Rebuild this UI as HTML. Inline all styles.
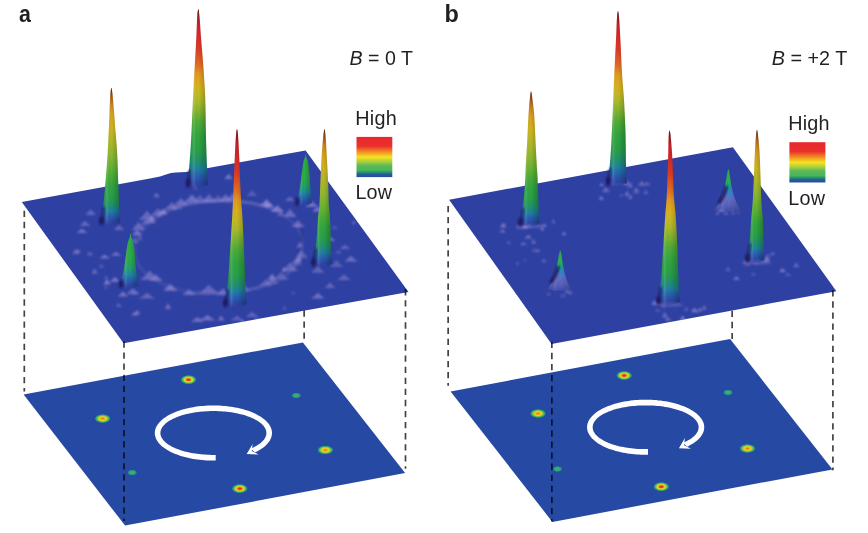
<!DOCTYPE html>
<html><head><meta charset="utf-8"><title>Figure</title>
<style>html,body{margin:0;padding:0;background:#fff;}svg{display:block}</style>
</head><body>
<svg width="868" height="533" viewBox="0 0 868 533">
<defs>
<filter id="soft" x="-5%" y="-5%" width="110%" height="110%"><feGaussianBlur stdDeviation="0.45"/></filter>
<filter id="b05" x="-5%" y="-5%" width="110%" height="110%"><feGaussianBlur stdDeviation="1.05"/></filter>
<filter id="b1" x="-50%" y="-50%" width="200%" height="200%"><feGaussianBlur stdDeviation="1.2"/></filter>
<linearGradient id="shade" x1="0" y1="0" x2="1" y2="0">
<stop offset="0" stop-color="#000" stop-opacity="0.22"/>
<stop offset="0.18" stop-color="#000" stop-opacity="0.05"/>
<stop offset="0.32" stop-color="#fff" stop-opacity="0.12"/>
<stop offset="0.55" stop-color="#000" stop-opacity="0"/>
<stop offset="1" stop-color="#000" stop-opacity="0.28"/>
</linearGradient>
<linearGradient id="cbar" x1="0" y1="0" x2="0" y2="1">
<stop offset="0" stop-color="#e8282d"/>
<stop offset="0.23" stop-color="#ea302b"/>
<stop offset="0.37" stop-color="#f28c24"/>
<stop offset="0.5" stop-color="#f7e21f"/>
<stop offset="0.62" stop-color="#a9cf40"/>
<stop offset="0.71" stop-color="#5cbb58"/>
<stop offset="0.83" stop-color="#4ab45c"/>
<stop offset="0.89" stop-color="#1f8f68"/>
<stop offset="0.935" stop-color="#2358a0"/>
<stop offset="1" stop-color="#2a4ca2"/>
</linearGradient>
<radialGradient id="dotbig">
<stop offset="0" stop-color="#d63a1f"/>
<stop offset="0.2" stop-color="#dc441f"/>
<stop offset="0.36" stop-color="#f0b020"/>
<stop offset="0.5" stop-color="#e2dc2a"/>
<stop offset="0.64" stop-color="#7cc446"/>
<stop offset="0.78" stop-color="#35ad62"/>
<stop offset="0.9" stop-color="#2a8a90" stop-opacity="0.8"/>
<stop offset="1" stop-color="#2848a4" stop-opacity="0"/>
</radialGradient>
<radialGradient id="dotmid">
<stop offset="0" stop-color="#e8702a"/>
<stop offset="0.2" stop-color="#eea020"/>
<stop offset="0.42" stop-color="#e6d826"/>
<stop offset="0.6" stop-color="#8cc83c"/>
<stop offset="0.75" stop-color="#3fb257"/>
<stop offset="0.88" stop-color="#2a8a90"/>
<stop offset="1" stop-color="#2848a4" stop-opacity="0"/>
</radialGradient>
<radialGradient id="dotsm">
<stop offset="0" stop-color="#3cb868"/>
<stop offset="0.4" stop-color="#34ac66"/>
<stop offset="0.75" stop-color="#2a8a90"/>
<stop offset="1" stop-color="#2848a4" stop-opacity="0"/>
</radialGradient>
<clipPath id="clipA"><polygon points="21.8,202.1 150.0,178.6 160.0,176.6 166.0,174.6 171.0,173.0 176.0,172.6 186.0,172.0 305.6,150.4 408.5,292.0 123.6,343.2"/></clipPath>
<clipPath id="clipB"><polygon points="449.1,199.7 732.9,147.2 836.4,291.2 551.6,343.9"/></clipPath>

<linearGradient id="ga2" gradientUnits="userSpaceOnUse" x1="0" y1="10.3" x2="0" y2="188.0"><stop offset="0.000" stop-color="#98181e"/><stop offset="0.050" stop-color="#c02026"/><stop offset="0.140" stop-color="#d4282a"/><stop offset="0.220" stop-color="#dc3c26"/><stop offset="0.310" stop-color="#e27020"/><stop offset="0.360" stop-color="#e29a20"/><stop offset="0.420" stop-color="#dab020"/><stop offset="0.470" stop-color="#c4ba22"/><stop offset="0.520" stop-color="#a8ba2a"/><stop offset="0.570" stop-color="#80b430"/><stop offset="0.630" stop-color="#50ac38"/><stop offset="0.710" stop-color="#30a540"/><stop offset="0.790" stop-color="#28a048"/><stop offset="0.855" stop-color="#209070"/><stop offset="0.893" stop-color="#1f80a0"/><stop offset="0.930" stop-color="#2860b0"/><stop offset="0.970" stop-color="#2a48a8"/><stop offset="1.000" stop-color="#2e40a2"/></linearGradient><linearGradient id="ta2" gradientUnits="userSpaceOnUse" x1="0" y1="9.3" x2="0" y2="25.3"><stop offset="0" stop-color="#3a1408" stop-opacity="0.75"/><stop offset="0.4" stop-color="#3a1408" stop-opacity="0.28"/><stop offset="1" stop-color="#3a1408" stop-opacity="0"/></linearGradient><linearGradient id="fa2" gradientUnits="userSpaceOnUse" x1="0" y1="183.5" x2="0" y2="189.5"><stop offset="0" stop-color="#fff"/><stop offset="1" stop-color="#000"/></linearGradient><mask id="ma2" maskUnits="userSpaceOnUse" x="168.3" y="5.3" width="60.0" height="194.7"><rect x="168.3" y="5.3" width="60.0" height="194.7" fill="url(#fa2)"/></mask>
<linearGradient id="ga5" gradientUnits="userSpaceOnUse" x1="0" y1="155.0" x2="0" y2="206.0"><stop offset="0.000" stop-color="#2fae44"/><stop offset="0.450" stop-color="#2bab48"/><stop offset="0.620" stop-color="#22a068"/><stop offset="0.740" stop-color="#1f88a0"/><stop offset="0.850" stop-color="#2860b0"/><stop offset="0.940" stop-color="#2a48a8"/><stop offset="1.000" stop-color="#2e40a2"/></linearGradient><linearGradient id="ta5" gradientUnits="userSpaceOnUse" x1="0" y1="154.0" x2="0" y2="170.0"><stop offset="0" stop-color="#3a1408" stop-opacity="0.75"/><stop offset="0.4" stop-color="#3a1408" stop-opacity="0.28"/><stop offset="1" stop-color="#3a1408" stop-opacity="0"/></linearGradient><linearGradient id="fa5" gradientUnits="userSpaceOnUse" x1="0" y1="201.5" x2="0" y2="207.5"><stop offset="0" stop-color="#fff"/><stop offset="1" stop-color="#000"/></linearGradient><mask id="ma5" maskUnits="userSpaceOnUse" x="275.7" y="150.0" width="60.0" height="68.0"><rect x="275.7" y="150.0" width="60.0" height="68.0" fill="url(#fa5)"/></mask>
<linearGradient id="ga1" gradientUnits="userSpaceOnUse" x1="0" y1="89.0" x2="0" y2="225.5"><stop offset="0.000" stop-color="#8a4a18"/><stop offset="0.070" stop-color="#c27020"/><stop offset="0.180" stop-color="#d6a020"/><stop offset="0.280" stop-color="#ccb422"/><stop offset="0.380" stop-color="#b0b828"/><stop offset="0.480" stop-color="#8cb830"/><stop offset="0.560" stop-color="#6cb432"/><stop offset="0.630" stop-color="#4cae36"/><stop offset="0.710" stop-color="#30a540"/><stop offset="0.790" stop-color="#28a048"/><stop offset="0.855" stop-color="#209070"/><stop offset="0.893" stop-color="#1f80a0"/><stop offset="0.930" stop-color="#2860b0"/><stop offset="0.970" stop-color="#2a48a8"/><stop offset="1.000" stop-color="#2e40a2"/></linearGradient><linearGradient id="ta1" gradientUnits="userSpaceOnUse" x1="0" y1="88.0" x2="0" y2="104.0"><stop offset="0" stop-color="#3a1408" stop-opacity="0.75"/><stop offset="0.4" stop-color="#3a1408" stop-opacity="0.28"/><stop offset="1" stop-color="#3a1408" stop-opacity="0"/></linearGradient><linearGradient id="fa1" gradientUnits="userSpaceOnUse" x1="0" y1="221.0" x2="0" y2="227.0"><stop offset="0" stop-color="#fff"/><stop offset="1" stop-color="#000"/></linearGradient><mask id="ma1" maskUnits="userSpaceOnUse" x="81.4" y="84.0" width="60.0" height="153.5"><rect x="81.4" y="84.0" width="60.0" height="153.5" fill="url(#fa1)"/></mask>
<linearGradient id="ga4" gradientUnits="userSpaceOnUse" x1="0" y1="130.2" x2="0" y2="267.0"><stop offset="0.000" stop-color="#8a4a18"/><stop offset="0.070" stop-color="#c27020"/><stop offset="0.180" stop-color="#d6a020"/><stop offset="0.280" stop-color="#ccb422"/><stop offset="0.380" stop-color="#b0b828"/><stop offset="0.480" stop-color="#8cb830"/><stop offset="0.560" stop-color="#6cb432"/><stop offset="0.630" stop-color="#4cae36"/><stop offset="0.710" stop-color="#30a540"/><stop offset="0.790" stop-color="#28a048"/><stop offset="0.855" stop-color="#209070"/><stop offset="0.893" stop-color="#1f80a0"/><stop offset="0.930" stop-color="#2860b0"/><stop offset="0.970" stop-color="#2a48a8"/><stop offset="1.000" stop-color="#2e40a2"/></linearGradient><linearGradient id="ta4" gradientUnits="userSpaceOnUse" x1="0" y1="129.2" x2="0" y2="145.2"><stop offset="0" stop-color="#3a1408" stop-opacity="0.75"/><stop offset="0.4" stop-color="#3a1408" stop-opacity="0.28"/><stop offset="1" stop-color="#3a1408" stop-opacity="0"/></linearGradient><linearGradient id="fa4" gradientUnits="userSpaceOnUse" x1="0" y1="262.5" x2="0" y2="268.5"><stop offset="0" stop-color="#fff"/><stop offset="1" stop-color="#000"/></linearGradient><mask id="ma4" maskUnits="userSpaceOnUse" x="294.4" y="125.2" width="60.0" height="153.8"><rect x="294.4" y="125.2" width="60.0" height="153.8" fill="url(#fa4)"/></mask>
<linearGradient id="ga6" gradientUnits="userSpaceOnUse" x1="0" y1="234.3" x2="0" y2="288.5"><stop offset="0.000" stop-color="#2fae44"/><stop offset="0.450" stop-color="#2bab48"/><stop offset="0.620" stop-color="#22a068"/><stop offset="0.740" stop-color="#1f88a0"/><stop offset="0.850" stop-color="#2860b0"/><stop offset="0.940" stop-color="#2a48a8"/><stop offset="1.000" stop-color="#2e40a2"/></linearGradient><linearGradient id="ta6" gradientUnits="userSpaceOnUse" x1="0" y1="233.3" x2="0" y2="249.3"><stop offset="0" stop-color="#3a1408" stop-opacity="0.75"/><stop offset="0.4" stop-color="#3a1408" stop-opacity="0.28"/><stop offset="1" stop-color="#3a1408" stop-opacity="0"/></linearGradient><linearGradient id="fa6" gradientUnits="userSpaceOnUse" x1="0" y1="284.0" x2="0" y2="290.0"><stop offset="0" stop-color="#fff"/><stop offset="1" stop-color="#000"/></linearGradient><mask id="ma6" maskUnits="userSpaceOnUse" x="100.5" y="229.3" width="60.0" height="71.2"><rect x="100.5" y="229.3" width="60.0" height="71.2" fill="url(#fa6)"/></mask>
<linearGradient id="ga3" gradientUnits="userSpaceOnUse" x1="0" y1="130.3" x2="0" y2="307.5"><stop offset="0.000" stop-color="#98181e"/><stop offset="0.056" stop-color="#c02026"/><stop offset="0.157" stop-color="#d4282a"/><stop offset="0.245" stop-color="#dc3c26"/><stop offset="0.343" stop-color="#e27020"/><stop offset="0.396" stop-color="#e29a20"/><stop offset="0.459" stop-color="#dab020"/><stop offset="0.510" stop-color="#c4ba22"/><stop offset="0.560" stop-color="#a8ba2a"/><stop offset="0.609" stop-color="#80b430"/><stop offset="0.667" stop-color="#50ac38"/><stop offset="0.742" stop-color="#30a540"/><stop offset="0.815" stop-color="#28a048"/><stop offset="0.873" stop-color="#209070"/><stop offset="0.906" stop-color="#1f80a0"/><stop offset="0.939" stop-color="#2860b0"/><stop offset="0.974" stop-color="#2a48a8"/><stop offset="1.000" stop-color="#2e40a2"/></linearGradient><linearGradient id="ta3" gradientUnits="userSpaceOnUse" x1="0" y1="129.3" x2="0" y2="145.3"><stop offset="0" stop-color="#3a1408" stop-opacity="0.75"/><stop offset="0.4" stop-color="#3a1408" stop-opacity="0.28"/><stop offset="1" stop-color="#3a1408" stop-opacity="0"/></linearGradient><linearGradient id="fa3" gradientUnits="userSpaceOnUse" x1="0" y1="303.0" x2="0" y2="309.0"><stop offset="0" stop-color="#fff"/><stop offset="1" stop-color="#000"/></linearGradient><mask id="ma3" maskUnits="userSpaceOnUse" x="207.0" y="125.3" width="60.0" height="194.2"><rect x="207.0" y="125.3" width="60.0" height="194.2" fill="url(#fa3)"/></mask>
<linearGradient id="gb2" gradientUnits="userSpaceOnUse" x1="0" y1="12.2" x2="0" y2="186.3"><stop offset="0.000" stop-color="#98181e"/><stop offset="0.050" stop-color="#c02026"/><stop offset="0.140" stop-color="#d4282a"/><stop offset="0.220" stop-color="#dc3c26"/><stop offset="0.310" stop-color="#e27020"/><stop offset="0.360" stop-color="#e29a20"/><stop offset="0.420" stop-color="#dab020"/><stop offset="0.470" stop-color="#c4ba22"/><stop offset="0.520" stop-color="#a8ba2a"/><stop offset="0.570" stop-color="#80b430"/><stop offset="0.630" stop-color="#50ac38"/><stop offset="0.710" stop-color="#30a540"/><stop offset="0.790" stop-color="#28a048"/><stop offset="0.855" stop-color="#209070"/><stop offset="0.893" stop-color="#1f80a0"/><stop offset="0.930" stop-color="#2860b0"/><stop offset="0.970" stop-color="#2a48a8"/><stop offset="1.000" stop-color="#2e40a2"/></linearGradient><linearGradient id="tb2" gradientUnits="userSpaceOnUse" x1="0" y1="11.2" x2="0" y2="27.2"><stop offset="0" stop-color="#3a1408" stop-opacity="0.75"/><stop offset="0.4" stop-color="#3a1408" stop-opacity="0.28"/><stop offset="1" stop-color="#3a1408" stop-opacity="0"/></linearGradient><linearGradient id="fb2" gradientUnits="userSpaceOnUse" x1="0" y1="181.8" x2="0" y2="187.8"><stop offset="0" stop-color="#fff"/><stop offset="1" stop-color="#000"/></linearGradient><mask id="mb2" maskUnits="userSpaceOnUse" x="588.0" y="7.2" width="60.0" height="191.1"><rect x="588.0" y="7.2" width="60.0" height="191.1" fill="url(#fb2)"/></mask>
<linearGradient id="gb5" gradientUnits="userSpaceOnUse" x1="0" y1="210.5" x2="0" y2="170.1"><stop offset="0.000" stop-color="#8482d2" stop-opacity="0.25"/><stop offset="0.120" stop-color="#8482d2" stop-opacity="0.48"/><stop offset="0.300" stop-color="#6f7ed2" stop-opacity="0.75"/><stop offset="0.420" stop-color="#3f80cc" stop-opacity="0.97"/><stop offset="0.520" stop-color="#2490b8" stop-opacity="1.00"/><stop offset="0.620" stop-color="#20a07c" stop-opacity="1.00"/><stop offset="0.740" stop-color="#2bb04e" stop-opacity="1.00"/><stop offset="1.000" stop-color="#2fa844" stop-opacity="1.00"/></linearGradient>
<linearGradient id="gb1" gradientUnits="userSpaceOnUse" x1="0" y1="92.5" x2="0" y2="227.0"><stop offset="0.000" stop-color="#8a4a18"/><stop offset="0.070" stop-color="#c27020"/><stop offset="0.180" stop-color="#d6a020"/><stop offset="0.280" stop-color="#ccb422"/><stop offset="0.380" stop-color="#b0b828"/><stop offset="0.480" stop-color="#8cb830"/><stop offset="0.560" stop-color="#6cb432"/><stop offset="0.630" stop-color="#4cae36"/><stop offset="0.710" stop-color="#30a540"/><stop offset="0.790" stop-color="#28a048"/><stop offset="0.855" stop-color="#209070"/><stop offset="0.893" stop-color="#1f80a0"/><stop offset="0.930" stop-color="#2860b0"/><stop offset="0.970" stop-color="#2a48a8"/><stop offset="1.000" stop-color="#2e40a2"/></linearGradient><linearGradient id="tb1" gradientUnits="userSpaceOnUse" x1="0" y1="91.5" x2="0" y2="107.5"><stop offset="0" stop-color="#3a1408" stop-opacity="0.75"/><stop offset="0.4" stop-color="#3a1408" stop-opacity="0.28"/><stop offset="1" stop-color="#3a1408" stop-opacity="0"/></linearGradient><linearGradient id="fb1" gradientUnits="userSpaceOnUse" x1="0" y1="222.5" x2="0" y2="228.5"><stop offset="0" stop-color="#fff"/><stop offset="1" stop-color="#000"/></linearGradient><mask id="mb1" maskUnits="userSpaceOnUse" x="501.0" y="87.5" width="60.0" height="151.5"><rect x="501.0" y="87.5" width="60.0" height="151.5" fill="url(#fb1)"/></mask>
<linearGradient id="gb4" gradientUnits="userSpaceOnUse" x1="0" y1="131.0" x2="0" y2="263.2"><stop offset="0.000" stop-color="#8a4a18"/><stop offset="0.070" stop-color="#c27020"/><stop offset="0.180" stop-color="#d6a020"/><stop offset="0.280" stop-color="#ccb422"/><stop offset="0.380" stop-color="#b0b828"/><stop offset="0.480" stop-color="#8cb830"/><stop offset="0.560" stop-color="#6cb432"/><stop offset="0.630" stop-color="#4cae36"/><stop offset="0.710" stop-color="#30a540"/><stop offset="0.790" stop-color="#28a048"/><stop offset="0.855" stop-color="#209070"/><stop offset="0.893" stop-color="#1f80a0"/><stop offset="0.930" stop-color="#2860b0"/><stop offset="0.970" stop-color="#2a48a8"/><stop offset="1.000" stop-color="#2e40a2"/></linearGradient><linearGradient id="tb4" gradientUnits="userSpaceOnUse" x1="0" y1="130.0" x2="0" y2="146.0"><stop offset="0" stop-color="#3a1408" stop-opacity="0.75"/><stop offset="0.4" stop-color="#3a1408" stop-opacity="0.28"/><stop offset="1" stop-color="#3a1408" stop-opacity="0"/></linearGradient><linearGradient id="fb4" gradientUnits="userSpaceOnUse" x1="0" y1="258.8" x2="0" y2="264.8"><stop offset="0" stop-color="#fff"/><stop offset="1" stop-color="#000"/></linearGradient><mask id="mb4" maskUnits="userSpaceOnUse" x="727.0" y="126.0" width="60.0" height="149.2"><rect x="727.0" y="126.0" width="60.0" height="149.2" fill="url(#fb4)"/></mask>
<linearGradient id="gb6" gradientUnits="userSpaceOnUse" x1="0" y1="289.5" x2="0" y2="251.3"><stop offset="0.000" stop-color="#8482d2" stop-opacity="0.25"/><stop offset="0.120" stop-color="#8482d2" stop-opacity="0.48"/><stop offset="0.300" stop-color="#6f7ed2" stop-opacity="0.75"/><stop offset="0.420" stop-color="#3f80cc" stop-opacity="0.97"/><stop offset="0.520" stop-color="#2490b8" stop-opacity="1.00"/><stop offset="0.620" stop-color="#20a07c" stop-opacity="1.00"/><stop offset="0.740" stop-color="#2bb04e" stop-opacity="1.00"/><stop offset="1.000" stop-color="#2fa844" stop-opacity="1.00"/></linearGradient>
<linearGradient id="gb3" gradientUnits="userSpaceOnUse" x1="0" y1="131.6" x2="0" y2="305.0"><stop offset="0.000" stop-color="#98181e"/><stop offset="0.056" stop-color="#c02026"/><stop offset="0.157" stop-color="#d4282a"/><stop offset="0.245" stop-color="#dc3c26"/><stop offset="0.343" stop-color="#e27020"/><stop offset="0.396" stop-color="#e29a20"/><stop offset="0.459" stop-color="#dab020"/><stop offset="0.510" stop-color="#c4ba22"/><stop offset="0.560" stop-color="#a8ba2a"/><stop offset="0.609" stop-color="#80b430"/><stop offset="0.667" stop-color="#50ac38"/><stop offset="0.742" stop-color="#30a540"/><stop offset="0.815" stop-color="#28a048"/><stop offset="0.873" stop-color="#209070"/><stop offset="0.906" stop-color="#1f80a0"/><stop offset="0.939" stop-color="#2860b0"/><stop offset="0.974" stop-color="#2a48a8"/><stop offset="1.000" stop-color="#2e40a2"/></linearGradient><linearGradient id="tb3" gradientUnits="userSpaceOnUse" x1="0" y1="130.6" x2="0" y2="146.6"><stop offset="0" stop-color="#3a1408" stop-opacity="0.75"/><stop offset="0.4" stop-color="#3a1408" stop-opacity="0.28"/><stop offset="1" stop-color="#3a1408" stop-opacity="0"/></linearGradient><linearGradient id="fb3" gradientUnits="userSpaceOnUse" x1="0" y1="300.5" x2="0" y2="306.5"><stop offset="0" stop-color="#fff"/><stop offset="1" stop-color="#000"/></linearGradient><mask id="mb3" maskUnits="userSpaceOnUse" x="639.6" y="126.6" width="60.0" height="190.4"><rect x="639.6" y="126.6" width="60.0" height="190.4" fill="url(#fb3)"/></mask></defs>
<rect width="868" height="533" fill="#fff"/>
<g filter="url(#soft)">
<polygon points="23.6,394.6 302.9,342.4 405.1,473.1 125.1,525.6" fill="#2848a4"/>
<polygon points="450.6,391.4 730.1,339.1 832.5,469.4 552.4,521.9" fill="#2848a4"/>
<ellipse cx="188.5" cy="379.7" rx="8.2" ry="4.8" fill="url(#dotbig)"/>
<ellipse cx="239.8" cy="488.6" rx="8.2" ry="4.8" fill="url(#dotbig)"/>
<ellipse cx="102.7" cy="418.6" rx="8.2" ry="4.6" fill="url(#dotmid)"/>
<ellipse cx="325.4" cy="450.0" rx="8.2" ry="4.6" fill="url(#dotmid)"/>
<ellipse cx="132.2" cy="472.6" rx="5.2" ry="3.2" fill="url(#dotsm)"/>
<ellipse cx="296.3" cy="395.5" rx="5.2" ry="3.2" fill="url(#dotsm)"/>
<ellipse cx="624.2" cy="375.5" rx="8.2" ry="4.8" fill="url(#dotbig)"/>
<ellipse cx="661.3" cy="486.7" rx="8.2" ry="4.8" fill="url(#dotbig)"/>
<ellipse cx="538.0" cy="413.5" rx="8.2" ry="4.6" fill="url(#dotmid)"/>
<ellipse cx="747.5" cy="448.5" rx="8.2" ry="4.6" fill="url(#dotmid)"/>
<ellipse cx="557.5" cy="469.0" rx="5.2" ry="3.2" fill="url(#dotsm)"/>
<ellipse cx="728.0" cy="392.5" rx="5.2" ry="3.2" fill="url(#dotsm)"/>
<path d="M215.7 460.5 L213.6 460.5 L211.3 460.5 L209.0 460.5 L206.7 460.4 L204.4 460.2 L202.1 460.0 L199.8 459.8 L197.6 459.5 L195.4 459.2 L193.2 458.9 L191.0 458.5 L188.9 458.0 L186.8 457.6 L184.8 457.0 L182.8 456.5 L180.8 455.9 L178.9 455.3 L177.1 454.6 L175.3 453.9 L173.5 453.2 L171.9 452.4 L170.3 451.7 L168.7 450.8 L167.3 450.0 L165.9 449.1 L164.6 448.2 L163.3 447.3 L162.1 446.4 L161.1 445.4 L160.1 444.4 L159.1 443.4 L158.3 442.4 L157.6 441.4 L156.9 440.3 L156.3 439.3 L155.8 438.2 L155.5 437.1 L155.2 436.0 L154.9 434.9 L154.8 433.9 L154.8 432.8 L154.9 431.7 L155.0 430.6 L155.3 429.5 L155.6 428.4 L156.0 427.4 L156.6 426.3 L157.2 425.2 L157.9 424.2 L158.7 423.2 L159.5 422.2 L160.5 421.2 L161.5 420.2 L162.6 419.2 L163.8 418.3 L165.1 417.4 L166.5 416.5 L167.9 415.6 L169.4 414.8 L170.9 414.0 L172.6 413.2 L174.3 412.5 L176.0 411.8 L177.8 411.1 L179.7 410.5 L181.6 409.8 L183.6 409.3 L185.6 408.7 L187.7 408.2 L189.8 407.8 L191.9 407.4 L194.1 407.0 L196.3 406.6 L198.6 406.3 L200.8 406.1 L203.1 405.9 L205.4 405.7 L207.7 405.6 L210.0 405.5 L212.3 405.5 L214.6 405.5 L216.9 405.5 L219.3 405.6 L221.6 405.7 L223.8 405.9 L226.1 406.1 L228.4 406.4 L230.6 406.7 L232.8 407.0 L235.0 407.4 L237.1 407.8 L239.2 408.3 L241.3 408.8 L243.3 409.3 L245.3 409.9 L247.2 410.5 L249.1 411.1 L250.9 411.8 L252.6 412.5 L254.3 413.3 L255.9 414.1 L257.5 414.9 L259.0 415.7 L260.4 416.6 L261.8 417.4 L263.0 418.4 L264.2 419.3 L265.3 420.2 L266.4 421.2 L267.3 422.2 L268.2 423.2 L269.0 424.3 L269.7 425.3 L270.3 426.4 L270.8 427.4 L271.2 428.5 L271.5 429.6 L271.8 430.7 L271.9 431.7 L272.0 432.8 L272.0 433.9 L271.8 435.0 L271.6 436.1 L271.3 437.2 L270.9 438.2 L270.4 439.3 L269.9 440.4 L269.2 441.4 L268.4 442.4 L267.6 443.5 L266.7 444.5 L265.7 445.4 L264.6 446.4 L263.4 447.4 L262.2 448.3 L260.9 449.2 L259.5 450.0 L258.0 450.9 L256.4 451.7 L254.8 452.5 L250.9 448.5 L252.3 447.9 L253.7 447.2 L255.1 446.5 L256.3 445.9 L257.5 445.1 L258.6 444.4 L259.7 443.7 L260.7 442.9 L261.6 442.1 L262.4 441.3 L263.2 440.5 L263.9 439.7 L264.5 438.9 L265.0 438.0 L265.4 437.2 L265.8 436.3 L266.1 435.5 L266.3 434.6 L266.4 433.7 L266.4 432.9 L266.3 432.0 L266.2 431.1 L266.0 430.3 L265.7 429.4 L265.3 428.6 L264.8 427.7 L264.3 426.9 L263.7 426.1 L263.0 425.2 L262.2 424.4 L261.3 423.6 L260.4 422.9 L259.4 422.1 L258.3 421.4 L257.1 420.6 L255.9 419.9 L254.6 419.2 L253.3 418.6 L251.9 417.9 L250.4 417.3 L248.9 416.7 L247.3 416.2 L245.7 415.6 L244.0 415.1 L242.2 414.6 L240.4 414.2 L238.6 413.7 L236.8 413.3 L234.9 413.0 L232.9 412.6 L231.0 412.3 L229.0 412.1 L226.9 411.8 L224.9 411.6 L222.8 411.5 L220.8 411.3 L218.7 411.2 L216.6 411.1 L214.5 411.1 L212.4 411.1 L210.3 411.1 L208.2 411.2 L206.1 411.3 L204.1 411.4 L202.0 411.6 L200.0 411.8 L198.0 412.1 L196.0 412.3 L194.0 412.6 L192.1 413.0 L190.2 413.3 L188.3 413.7 L186.5 414.1 L184.7 414.6 L182.9 415.1 L181.2 415.6 L179.6 416.1 L178.0 416.7 L176.5 417.3 L175.0 417.9 L173.6 418.5 L172.2 419.2 L170.9 419.9 L169.7 420.6 L168.6 421.3 L167.5 422.1 L166.5 422.8 L165.5 423.6 L164.7 424.4 L163.9 425.2 L163.2 426.0 L162.5 426.8 L162.0 427.7 L161.5 428.5 L161.1 429.4 L160.8 430.2 L160.6 431.1 L160.5 431.9 L160.4 432.8 L160.4 433.7 L160.5 434.5 L160.7 435.4 L161.0 436.3 L161.3 437.1 L161.8 438.0 L162.3 438.8 L162.9 439.6 L163.6 440.5 L164.3 441.3 L165.2 442.1 L166.1 442.9 L167.0 443.6 L168.1 444.4 L169.2 445.1 L170.4 445.8 L171.7 446.5 L173.0 447.2 L174.4 447.8 L175.8 448.5 L177.4 449.1 L178.9 449.6 L180.5 450.2 L182.2 450.7 L183.9 451.2 L185.7 451.7 L187.5 452.1 L189.4 452.5 L191.2 452.9 L193.2 453.2 L195.1 453.6 L197.1 453.8 L199.1 454.1 L201.1 454.3 L203.2 454.5 L205.3 454.6 L207.3 454.8 L209.4 454.8 L211.5 454.9 L213.6 454.9 L215.7 454.9 Z" fill="#fff"/><path d="M246.7 454.0 L252.6 443.9 L251.8 450.9 L258.6 454.5 Z" fill="#fff"/>
<path d="M648.0 454.8 L645.9 454.8 L643.6 454.8 L641.3 454.7 L638.9 454.6 L636.6 454.5 L634.4 454.3 L632.1 454.1 L629.8 453.8 L627.6 453.5 L625.4 453.1 L623.3 452.7 L621.1 452.3 L619.1 451.8 L617.0 451.3 L615.0 450.7 L613.1 450.1 L611.2 449.5 L609.3 448.9 L607.5 448.2 L605.8 447.4 L604.1 446.7 L602.5 445.9 L601.0 445.1 L599.5 444.2 L598.1 443.4 L596.8 442.5 L595.6 441.5 L594.4 440.6 L593.3 439.6 L592.3 438.7 L591.4 437.7 L590.6 436.6 L589.8 435.6 L589.2 434.6 L588.6 433.5 L588.1 432.4 L587.7 431.4 L587.4 430.3 L587.2 429.2 L587.1 428.1 L587.1 427.0 L587.1 425.9 L587.3 424.8 L587.5 423.8 L587.9 422.7 L588.3 421.6 L588.8 420.5 L589.4 419.5 L590.1 418.5 L590.9 417.4 L591.8 416.4 L592.7 415.4 L593.8 414.4 L594.9 413.5 L596.1 412.6 L597.4 411.6 L598.7 410.8 L600.1 409.9 L601.6 409.1 L603.2 408.3 L604.8 407.5 L606.5 406.7 L608.3 406.0 L610.1 405.4 L612.0 404.7 L613.9 404.1 L615.9 403.5 L617.9 403.0 L619.9 402.5 L622.0 402.0 L624.2 401.6 L626.4 401.2 L628.6 400.9 L630.8 400.6 L633.1 400.3 L635.3 400.1 L637.6 400.0 L639.9 399.8 L642.2 399.7 L644.6 399.7 L646.9 399.7 L649.2 399.8 L651.5 399.8 L653.8 400.0 L656.1 400.1 L658.4 400.4 L660.6 400.6 L662.9 400.9 L665.1 401.3 L667.2 401.6 L669.4 402.1 L671.5 402.5 L673.5 403.0 L675.5 403.6 L677.5 404.1 L679.4 404.7 L681.3 405.4 L683.1 406.1 L684.9 406.8 L686.6 407.5 L688.2 408.3 L689.8 409.1 L691.2 409.9 L692.7 410.8 L694.0 411.7 L695.3 412.6 L696.5 413.5 L697.6 414.5 L698.6 415.5 L699.6 416.5 L700.4 417.5 L701.2 418.5 L701.9 419.5 L702.5 420.6 L703.0 421.7 L703.5 422.7 L703.8 423.8 L704.0 424.9 L704.2 426.0 L704.2 427.1 L704.2 428.2 L704.1 429.3 L703.9 430.3 L703.6 431.4 L703.2 432.5 L702.7 433.6 L702.1 434.6 L701.4 435.7 L700.7 436.7 L699.9 437.7 L698.9 438.7 L697.9 439.7 L696.8 440.7 L695.7 441.6 L694.4 442.5 L693.1 443.4 L691.7 444.3 L690.2 445.1 L688.7 445.9 L687.1 446.7 L683.1 442.7 L684.6 442.1 L686.0 441.5 L687.3 440.8 L688.6 440.1 L689.8 439.4 L690.9 438.7 L691.9 437.9 L692.9 437.1 L693.8 436.4 L694.7 435.6 L695.4 434.8 L696.1 433.9 L696.7 433.1 L697.2 432.3 L697.7 431.4 L698.0 430.6 L698.3 429.7 L698.5 428.8 L698.6 428.0 L698.6 427.1 L698.6 426.2 L698.5 425.4 L698.2 424.5 L697.9 423.7 L697.5 422.8 L697.1 422.0 L696.5 421.1 L695.9 420.3 L695.2 419.5 L694.4 418.7 L693.6 417.9 L692.6 417.1 L691.6 416.4 L690.5 415.6 L689.4 414.9 L688.2 414.2 L686.9 413.5 L685.5 412.8 L684.1 412.2 L682.7 411.6 L681.1 411.0 L679.5 410.4 L677.9 409.9 L676.2 409.4 L674.5 408.9 L672.7 408.4 L670.9 408.0 L669.0 407.6 L667.1 407.2 L665.2 406.9 L663.2 406.6 L661.2 406.3 L659.2 406.1 L657.2 405.9 L655.1 405.7 L653.0 405.6 L650.9 405.5 L648.9 405.4 L646.8 405.4 L644.7 405.4 L642.6 405.4 L640.5 405.5 L638.4 405.6 L636.3 405.7 L634.3 405.9 L632.2 406.1 L630.2 406.3 L628.2 406.6 L626.2 406.9 L624.3 407.2 L622.4 407.6 L620.5 408.0 L618.7 408.4 L616.9 408.8 L615.2 409.3 L613.5 409.8 L611.8 410.4 L610.3 410.9 L608.7 411.5 L607.3 412.2 L605.8 412.8 L604.5 413.5 L603.2 414.1 L602.0 414.8 L600.8 415.6 L599.7 416.3 L598.7 417.1 L597.8 417.8 L596.9 418.6 L596.1 419.4 L595.4 420.3 L594.8 421.1 L594.2 421.9 L593.8 422.8 L593.4 423.6 L593.1 424.5 L592.9 425.3 L592.7 426.2 L592.7 427.1 L592.7 427.9 L592.8 428.8 L593.0 429.7 L593.2 430.5 L593.6 431.4 L594.0 432.2 L594.6 433.1 L595.1 433.9 L595.8 434.7 L596.6 435.5 L597.4 436.3 L598.3 437.1 L599.3 437.9 L600.3 438.6 L601.5 439.3 L602.7 440.1 L603.9 440.8 L605.3 441.4 L606.6 442.1 L608.1 442.7 L609.6 443.3 L611.2 443.9 L612.8 444.4 L614.5 445.0 L616.2 445.5 L617.9 445.9 L619.8 446.4 L621.6 446.8 L623.5 447.1 L625.4 447.5 L627.4 447.8 L629.4 448.1 L631.4 448.3 L633.4 448.6 L635.4 448.7 L637.5 448.9 L639.6 449.0 L641.7 449.1 L643.8 449.1 L645.9 449.1 L648.0 449.1 Z" fill="#fff"/><path d="M678.9 448.2 L684.9 438.1 L684.1 445.2 L690.9 448.8 Z" fill="#fff"/>
</g>
<line x1="304.15" y1="310.35" x2="304.15" y2="338.90" stroke="#000" stroke-opacity="0.74" stroke-width="1.7" stroke-dasharray="6.3 4.775"/>
<line x1="732.15" y1="310.75" x2="732.15" y2="338.90" stroke="#000" stroke-opacity="0.74" stroke-width="1.7" stroke-dasharray="6.3 4.775"/>
<g filter="url(#soft)">
<polygon points="21.8,202.1 150.0,178.6 160.0,176.6 166.0,174.6 171.0,173.0 176.0,172.6 186.0,172.0 305.6,150.4 408.5,292.0 123.6,343.2" fill="#2e40a2"/>
<polygon points="449.1,199.7 732.9,147.2 836.4,291.2 551.6,343.9" fill="#2e40a2"/>
</g>
<g filter="url(#b05)" clip-path="url(#clipA)">
<ellipse cx="218.5" cy="247.2" rx="84" ry="46.5" transform="rotate(-3 218.5 247.2)" fill="none" stroke="#8f88d0" stroke-opacity="0.16" stroke-width="3"/>
<path d="M141 226 Q160 206 205 201.5 Q245 198 282 211" fill="none" stroke="#8f88d0" stroke-opacity="0.3" stroke-width="3.5"/>
<path d="M301 258 Q290 278 262 287 Q230 295 190 293" fill="none" stroke="#8f88d0" stroke-opacity="0.22" stroke-width="3.5"/>
<path d="M300 222 Q306 246 290 268 Q278 282 262 287" fill="none" stroke="#1d2a7a" stroke-opacity="0.35" stroke-width="2.5"/>
<path d="M85.2 215.0 Q89.0 211.1 90.6 209.2 Q92.2 211.1 96.0 215.0 Z" fill="#8f87d2" opacity="0.54"/>
<path d="M79.6 226.0 Q83.4 222.5 85.0 220.8 Q86.6 222.5 90.4 226.0 Z" fill="#8f87d2" opacity="0.57"/>
<path d="M76.6 233.0 Q80.4 229.8 82.0 228.4 Q83.6 229.8 87.4 233.0 Z" fill="#8f87d2" opacity="0.68"/>
<path d="M113.6 230.0 Q117.4 226.5 119.0 224.8 Q120.6 226.5 124.4 230.0 Z" fill="#8f87d2" opacity="0.54"/>
<path d="M138.9 220.0 Q144.6 214.0 147.0 210.6 Q149.4 214.0 155.1 220.0 Z" fill="#8f87d2" opacity="0.55"/>
<path d="M131.8 230.0 Q136.5 224.7 138.5 221.8 Q140.5 224.7 145.2 230.0 Z" fill="#8f87d2" opacity="0.58"/>
<path d="M151.2 215.0 Q156.0 210.4 158.0 208.0 Q160.0 210.4 164.8 215.0 Z" fill="#8f87d2" opacity="0.46"/>
<path d="M165.2 209.0 Q170.0 204.4 172.0 202.0 Q174.0 204.4 178.8 209.0 Z" fill="#8f87d2" opacity="0.55"/>
<path d="M174.2 205.0 Q179.0 200.4 181.0 198.0 Q183.0 200.4 187.8 205.0 Z" fill="#8f87d2" opacity="0.59"/>
<path d="M183.9 202.5 Q189.6 197.2 192.0 194.3 Q194.4 197.2 200.1 202.5 Z" fill="#8f87d2" opacity="0.64"/>
<path d="M193.2 202.0 Q198.0 197.0 200.0 194.4 Q202.0 197.0 206.8 202.0 Z" fill="#8f87d2" opacity="0.43"/>
<path d="M200.9 202.5 Q206.6 196.8 209.0 193.7 Q211.4 196.8 217.1 202.5 Z" fill="#8f87d2" opacity="0.49"/>
<path d="M211.2 202.0 Q216.0 197.4 218.0 195.0 Q220.0 197.4 224.8 202.0 Z" fill="#8f87d2" opacity="0.43"/>
<path d="M218.8 201.5 Q223.6 196.5 225.6 193.9 Q227.6 196.5 232.3 201.5 Z" fill="#8f87d2" opacity="0.64"/>
<path d="M226.2 200.0 Q231.0 195.4 233.0 193.0 Q235.0 195.4 239.8 200.0 Z" fill="#8f87d2" opacity="0.61"/>
<path d="M246.6 196.0 Q250.4 192.1 252.0 190.2 Q253.6 192.1 257.4 196.0 Z" fill="#8f87d2" opacity="0.41"/>
<path d="M259.8 206.0 Q264.5 201.4 266.5 199.0 Q268.5 201.4 273.2 206.0 Z" fill="#8f87d2" opacity="0.69"/>
<path d="M270.8 212.0 Q275.5 207.4 277.5 205.0 Q279.5 207.4 284.2 212.0 Z" fill="#8f87d2" opacity="0.69"/>
<path d="M283.2 217.0 Q288.0 211.7 290.0 208.8 Q292.0 211.7 296.8 217.0 Z" fill="#8f87d2" opacity="0.60"/>
<path d="M291.2 227.0 Q296.0 222.4 298.0 220.0 Q300.0 222.4 304.8 227.0 Z" fill="#8f87d2" opacity="0.58"/>
<path d="M294.8 258.0 Q299.5 252.7 301.5 249.8 Q303.5 252.7 308.2 258.0 Z" fill="#8f87d2" opacity="0.45"/>
<path d="M289.2 265.0 Q294.0 260.4 296.0 258.0 Q298.0 260.4 302.8 265.0 Z" fill="#8f87d2" opacity="0.40"/>
<path d="M281.9 271.0 Q287.6 265.7 290.0 262.8 Q292.4 265.7 298.1 271.0 Z" fill="#8f87d2" opacity="0.56"/>
<path d="M272.9 280.0 Q278.6 274.7 281.0 271.8 Q283.4 274.7 289.1 280.0 Z" fill="#8f87d2" opacity="0.42"/>
<path d="M265.2 284.0 Q270.0 279.4 272.0 277.0 Q274.0 279.4 278.8 284.0 Z" fill="#8f87d2" opacity="0.46"/>
<path d="M259.2 286.0 Q264.0 281.4 266.0 279.0 Q268.0 281.4 272.8 286.0 Z" fill="#8f87d2" opacity="0.47"/>
<path d="M237.2 291.0 Q242.0 286.4 244.0 284.0 Q246.0 286.4 250.8 291.0 Z" fill="#8f87d2" opacity="0.41"/>
<path d="M216.2 295.0 Q221.0 290.4 223.0 288.0 Q225.0 290.4 229.8 295.0 Z" fill="#8f87d2" opacity="0.54"/>
<path d="M199.4 293.0 Q206.0 287.7 208.8 284.8 Q211.6 287.7 218.2 293.0 Z" fill="#8f87d2" opacity="0.53"/>
<path d="M182.2 295.0 Q187.0 291.1 189.0 289.2 Q191.0 291.1 195.8 295.0 Z" fill="#8f87d2" opacity="0.65"/>
<path d="M164.2 291.0 Q169.0 286.4 171.0 284.0 Q173.0 286.4 177.8 291.0 Z" fill="#8f87d2" opacity="0.56"/>
<path d="M149.2 281.0 Q154.0 276.4 156.0 274.0 Q158.0 276.4 162.8 281.0 Z" fill="#8f87d2" opacity="0.59"/>
<path d="M140.2 280.0 Q146.9 274.0 149.7 270.6 Q152.5 274.0 159.1 280.0 Z" fill="#8f87d2" opacity="0.55"/>
<path d="M126.2 294.0 Q131.0 290.1 133.0 288.2 Q135.0 290.1 139.8 294.0 Z" fill="#8f87d2" opacity="0.60"/>
<path d="M138.9 298.5 Q144.6 294.6 147.0 292.7 Q149.4 294.6 155.1 298.5 Z" fill="#8f87d2" opacity="0.54"/>
<path d="M162.7 290.0 Q167.4 286.1 169.4 284.2 Q171.4 286.1 176.2 290.0 Z" fill="#8f87d2" opacity="0.48"/>
<path d="M109.6 282.0 Q113.4 278.5 115.0 276.8 Q116.6 278.5 120.4 282.0 Z" fill="#8f87d2" opacity="0.70"/>
<path d="M117.6 296.6 Q121.4 293.1 123.0 291.4 Q124.6 293.1 128.4 296.6 Z" fill="#8f87d2" opacity="0.70"/>
<path d="M199.4 320.6 Q205.1 316.7 207.5 314.8 Q209.9 316.7 215.6 320.6 Z" fill="#8f87d2" opacity="0.65"/>
<path d="M190.8 322.0 Q195.5 318.5 197.5 316.8 Q199.5 318.5 204.2 322.0 Z" fill="#8f87d2" opacity="0.61"/>
<path d="M230.2 320.6 Q235.0 317.1 237.0 315.4 Q239.0 317.1 243.8 320.6 Z" fill="#8f87d2" opacity="0.49"/>
<path d="M245.2 317.0 Q250.0 313.5 252.0 311.8 Q254.0 313.5 258.8 317.0 Z" fill="#8f87d2" opacity="0.47"/>
<path d="M311.2 272.7 Q316.0 268.1 318.0 265.7 Q320.0 268.1 324.8 272.7 Z" fill="#8f87d2" opacity="0.49"/>
<path d="M329.8 267.0 Q334.5 262.4 336.5 260.0 Q338.5 262.4 343.2 267.0 Z" fill="#8f87d2" opacity="0.42"/>
<path d="M344.2 261.6 Q349.0 257.7 351.0 255.8 Q353.0 257.7 357.8 261.6 Z" fill="#8f87d2" opacity="0.63"/>
<path d="M337.2 280.0 Q342.0 276.1 344.0 274.2 Q346.0 276.1 350.8 280.0 Z" fill="#8f87d2" opacity="0.52"/>
<path d="M311.2 298.5 Q316.0 294.6 318.0 292.7 Q320.0 294.6 324.8 298.5 Z" fill="#8f87d2" opacity="0.65"/>
<path d="M324.6 288.0 Q328.4 284.1 330.0 282.2 Q331.6 284.1 335.4 288.0 Z" fill="#8f87d2" opacity="0.52"/>
<path d="M99.3 258.5 Q103.1 255.7 104.7 254.5 Q106.3 255.7 110.1 258.5 Z" fill="#8f87d2" opacity="0.69"/>
<path d="M110.6 255.7 Q114.4 252.9 116.0 251.7 Q117.6 252.9 121.4 255.7 Z" fill="#8f87d2" opacity="0.65"/>
<path d="M128.6 243.0 Q132.4 239.1 134.0 237.2 Q135.6 239.1 139.4 243.0 Z" fill="#8f87d2" opacity="0.40"/>
<path d="M131.6 235.0 Q135.4 231.1 137.0 229.2 Q138.6 231.1 142.4 235.0 Z" fill="#8f87d2" opacity="0.46"/>
<path d="M305.2 207.0 Q310.0 203.1 312.0 201.2 Q314.0 203.1 318.8 207.0 Z" fill="#8f87d2" opacity="0.67"/>
<path d="M284.6 201.0 Q288.4 197.8 290.0 196.4 Q291.6 197.8 295.4 201.0 Z" fill="#8f87d2" opacity="0.54"/>
<path d="M324.6 241.0 Q328.4 237.8 330.0 236.4 Q331.6 237.8 335.4 241.0 Z" fill="#8f87d2" opacity="0.69"/>
<path d="M339.6 249.0 Q343.4 245.8 345.0 244.4 Q346.6 245.8 350.4 249.0 Z" fill="#8f87d2" opacity="0.52"/>
<path d="M147.5 219.7 L151.7 215.7 L156.1 219.7 Z" fill="#958cd2" opacity="0.52"/><path d="M295.8 227.3 L298.1 224.0 L300.8 227.3 Z" fill="#958cd2" opacity="0.68"/><path d="M295.5 247.8 L299.8 242.3 L302.4 247.8 Z" fill="#958cd2" opacity="0.40"/><path d="M281.7 271.6 L283.8 266.6 L286.4 271.6 Z" fill="#958cd2" opacity="0.72"/><path d="M172.3 209.9 L174.6 206.0 L176.9 209.9 Z" fill="#958cd2" opacity="0.50"/><path d="M177.1 208.8 L179.0 204.1 L182.8 208.8 Z" fill="#958cd2" opacity="0.43"/><path d="M293.2 261.8 L297.9 257.9 L301.2 261.8 Z" fill="#958cd2" opacity="0.75"/><path d="M147.5 222.9 L151.5 217.4 L155.9 222.9 Z" fill="#958cd2" opacity="0.72"/><path d="M295.7 260.5 L299.5 255.4 L301.8 260.5 Z" fill="#958cd2" opacity="0.70"/><path d="M264.2 207.5 L266.4 203.5 L268.9 207.5 Z" fill="#958cd2" opacity="0.66"/><path d="M158.2 214.8 L162.2 209.4 L166.5 214.8 Z" fill="#958cd2" opacity="0.47"/><path d="M264.5 207.2 L267.2 202.7 L271.8 207.2 Z" fill="#958cd2" opacity="0.52"/><path d="M132.7 235.6 L136.9 230.4 L142.5 235.6 Z" fill="#958cd2" opacity="0.48"/><path d="M262.8 205.9 L266.6 201.0 L271.5 205.9 Z" fill="#958cd2" opacity="0.69"/><path d="M266.5 207.2 L270.4 202.5 L274.1 207.2 Z" fill="#958cd2" opacity="0.42"/><path d="M267.5 279.4 L272.3 273.5 L276.2 279.4 Z" fill="#958cd2" opacity="0.70"/><path d="M296.1 256.6 L300.6 252.0 L303.6 256.6 Z" fill="#958cd2" opacity="0.33"/><path d="M277.2 216.0 L280.5 211.3 L284.4 216.0 Z" fill="#958cd2" opacity="0.46"/><path d="M271.6 210.9 L275.0 206.2 L279.4 210.9 Z" fill="#958cd2" opacity="0.31"/><path d="M158.7 214.2 L163.9 208.4 L167.8 214.2 Z" fill="#958cd2" opacity="0.66"/><path d="M180.9 204.8 L184.0 201.3 L189.1 204.8 Z" fill="#958cd2" opacity="0.31"/><path d="M298.1 246.6 L299.8 241.4 L303.2 246.6 Z" fill="#958cd2" opacity="0.45"/><path d="M156.5 216.7 L159.1 212.6 L161.9 216.7 Z" fill="#958cd2" opacity="0.62"/><path d="M205.2 202.0 L206.9 197.6 L209.8 202.0 Z" fill="#958cd2" opacity="0.49"/><path d="M142.6 223.7 L146.9 219.8 L149.8 223.7 Z" fill="#958cd2" opacity="0.57"/><path d="M137.3 240.2 L140.4 234.7 L142.6 240.2 Z" fill="#958cd2" opacity="0.37"/>
<path d="M351.5 223.7 L354.2 220.4 L355.8 223.7 Z" fill="#958cd2" opacity="0.68"/><path d="M153.3 197.2 L156.0 192.5 L160.2 197.2 Z" fill="#958cd2" opacity="0.56"/><path d="M103.2 284.6 L107.0 278.8 L110.7 284.6 Z" fill="#958cd2" opacity="0.73"/><path d="M103.9 278.5 L105.7 275.4 L108.1 278.5 Z" fill="#958cd2" opacity="0.51"/><path d="M115.8 307.0 L118.1 302.4 L122.3 307.0 Z" fill="#958cd2" opacity="0.41"/><path d="M165.0 308.9 L167.6 303.1 L171.4 308.9 Z" fill="#958cd2" opacity="0.60"/><path d="M319.9 200.5 L324.3 195.0 L327.5 200.5 Z" fill="#958cd2" opacity="0.64"/><path d="M130.7 315.5 L135.4 312.1 L139.3 315.5 Z" fill="#958cd2" opacity="0.64"/><path d="M91.1 273.7 L95.0 268.1 L97.5 273.7 Z" fill="#958cd2" opacity="0.53"/><path d="M132.5 314.1 L137.5 309.9 L140.8 314.1 Z" fill="#958cd2" opacity="0.56"/><path d="M191.7 185.3 L193.6 181.4 L196.8 185.3 Z" fill="#958cd2" opacity="0.61"/><path d="M313.6 210.9 L318.2 207.0 L322.0 210.9 Z" fill="#958cd2" opacity="0.73"/><path d="M86.5 255.6 L89.5 251.0 L93.6 255.6 Z" fill="#958cd2" opacity="0.44"/><path d="M74.0 252.4 L77.9 249.2 L80.9 252.4 Z" fill="#958cd2" opacity="0.67"/><path d="M312.0 211.6 L315.3 208.4 L319.6 211.6 Z" fill="#958cd2" opacity="0.59"/><path d="M240.3 323.2 L242.1 318.8 L244.8 323.2 Z" fill="#958cd2" opacity="0.68"/><path d="M253.4 321.1 L256.1 316.1 L259.4 321.1 Z" fill="#958cd2" opacity="0.31"/><path d="M282.2 310.2 L284.8 304.6 L286.6 310.2 Z" fill="#958cd2" opacity="0.31"/><path d="M334.3 253.5 L338.6 250.1 L342.2 253.5 Z" fill="#958cd2" opacity="0.38"/><path d="M130.5 295.1 L134.5 291.7 L139.2 295.1 Z" fill="#958cd2" opacity="0.32"/><path d="M112.5 208.5 L114.7 204.5 L117.0 208.5 Z" fill="#958cd2" opacity="0.31"/><path d="M224.3 178.9 L228.9 173.7 L232.6 178.9 Z" fill="#958cd2" opacity="0.69"/><path d="M97.8 267.7 L101.3 263.8 L104.9 267.7 Z" fill="#958cd2" opacity="0.35"/><path d="M295.1 203.1 L297.8 199.0 L301.9 203.1 Z" fill="#958cd2" opacity="0.53"/><path d="M330.9 229.1 L334.4 225.0 L337.8 229.1 Z" fill="#958cd2" opacity="0.31"/><path d="M291.3 294.3 L293.6 290.8 L295.4 294.3 Z" fill="#958cd2" opacity="0.34"/><path d="M71.6 254.2 L75.7 248.4 L80.1 254.2 Z" fill="#958cd2" opacity="0.40"/><path d="M217.8 320.4 L220.8 315.2 L224.8 320.4 Z" fill="#958cd2" opacity="0.62"/><path d="M104.2 288.5 L105.4 285.4 L108.2 288.5 Z" fill="#958cd2" opacity="0.48"/><path d="M193.4 189.2 L195.1 185.6 L197.9 189.2 Z" fill="#958cd2" opacity="0.40"/>
</g>
<g filter="url(#b05)" clip-path="url(#clipB)">
<path d="M515.5 226.0 Q526.0 222.6 528.5 209.0 Q533.7 222.6 545.6 227.0 Q529.5 230.0 515.5 226.0 Z" fill="#7f7fd0" opacity="0.42"/>
<path d="M603.5 183.0 Q614.0 179.6 616.5 166.0 Q621.7 179.6 633.6 184.0 Q617.5 187.0 603.5 183.0 Z" fill="#7f7fd0" opacity="0.42"/>
<path d="M654.0 304.5 Q664.5 301.1 667.0 287.5 Q672.2 301.1 684.1 305.5 Q668.0 308.5 654.0 304.5 Z" fill="#7f7fd0" opacity="0.42"/>
<path d="M742.0 262.5 Q752.5 259.1 755.0 245.5 Q760.2 259.1 772.1 263.5 Q756.0 266.5 742.0 262.5 Z" fill="#7f7fd0" opacity="0.42"/>
<path d="M531.2 243.4 L533.0 238.9 L536.6 243.4 Z" fill="#958cd2" opacity="0.58"/><path d="M561.5 235.0 L563.9 231.5 L566.4 235.0 Z" fill="#958cd2" opacity="0.75"/><path d="M540.8 226.5 L544.8 223.2 L547.4 226.5 Z" fill="#958cd2" opacity="0.59"/><path d="M499.1 232.4 L502.7 229.3 L505.9 232.4 Z" fill="#958cd2" opacity="0.64"/><path d="M524.1 238.5 L528.7 234.4 L531.8 238.5 Z" fill="#958cd2" opacity="0.62"/><path d="M521.6 221.5 L525.2 216.6 L527.1 221.5 Z" fill="#958cd2" opacity="0.50"/><path d="M540.2 230.3 L542.3 226.8 L544.6 230.3 Z" fill="#958cd2" opacity="0.73"/><path d="M515.5 228.8 L518.7 225.0 L521.6 228.8 Z" fill="#958cd2" opacity="0.46"/><path d="M499.5 227.6 L503.9 222.3 L506.3 227.6 Z" fill="#958cd2" opacity="0.69"/><path d="M520.6 228.7 L524.6 223.3 L528.3 228.7 Z" fill="#958cd2" opacity="0.71"/><path d="M524.4 227.8 L527.3 223.4 L531.9 227.8 Z" fill="#958cd2" opacity="0.43"/><path d="M551.7 223.4 L553.0 218.4 L555.8 223.4 Z" fill="#958cd2" opacity="0.48"/><path d="M519.9 245.0 L522.8 242.0 L527.5 245.0 Z" fill="#958cd2" opacity="0.58"/><path d="M524.2 226.7 L529.1 221.2 L531.9 226.7 Z" fill="#958cd2" opacity="0.53"/>
<path d="M618.5 196.4 L621.1 193.1 L624.0 196.4 Z" fill="#958cd2" opacity="0.33"/><path d="M643.6 185.2 L646.7 181.8 L650.8 185.2 Z" fill="#958cd2" opacity="0.54"/><path d="M624.4 195.8 L627.4 190.5 L629.2 195.8 Z" fill="#958cd2" opacity="0.67"/><path d="M622.6 185.1 L625.9 180.5 L627.8 185.1 Z" fill="#958cd2" opacity="0.63"/><path d="M627.0 187.4 L629.6 182.7 L633.5 187.4 Z" fill="#958cd2" opacity="0.53"/><path d="M602.1 191.9 L605.7 186.7 L610.0 191.9 Z" fill="#958cd2" opacity="0.55"/><path d="M637.8 185.8 L641.5 180.7 L645.5 185.8 Z" fill="#958cd2" opacity="0.53"/><path d="M599.6 186.1 L600.9 182.4 L604.1 186.1 Z" fill="#958cd2" opacity="0.67"/><path d="M643.4 193.9 L645.6 189.6 L648.4 193.9 Z" fill="#958cd2" opacity="0.51"/><path d="M633.9 190.9 L636.2 187.5 L639.5 190.9 Z" fill="#958cd2" opacity="0.58"/><path d="M598.9 199.8 L600.7 195.5 L604.1 199.8 Z" fill="#958cd2" opacity="0.71"/><path d="M632.6 193.5 L635.9 189.0 L639.8 193.5 Z" fill="#958cd2" opacity="0.41"/><path d="M628.1 198.8 L631.0 194.0 L632.1 198.8 Z" fill="#958cd2" opacity="0.70"/><path d="M614.8 177.9 L617.2 174.3 L618.6 177.9 Z" fill="#958cd2" opacity="0.73"/>
<path d="M650.8 304.9 L655.3 299.6 L658.1 304.9 Z" fill="#958cd2" opacity="0.63"/><path d="M690.9 312.2 L694.1 307.6 L698.9 312.2 Z" fill="#958cd2" opacity="0.71"/><path d="M654.8 312.0 L657.3 307.6 L661.0 312.0 Z" fill="#958cd2" opacity="0.31"/><path d="M664.7 320.7 L667.5 317.5 L671.9 320.7 Z" fill="#958cd2" opacity="0.66"/><path d="M661.9 308.0 L663.2 302.9 L665.7 308.0 Z" fill="#958cd2" opacity="0.39"/><path d="M701.5 309.9 L704.4 304.5 L706.5 309.9 Z" fill="#958cd2" opacity="0.54"/><path d="M679.5 320.7 L682.5 315.3 L686.3 320.7 Z" fill="#958cd2" opacity="0.70"/><path d="M662.4 314.6 L664.8 311.5 L666.8 314.6 Z" fill="#958cd2" opacity="0.44"/><path d="M697.3 311.2 L699.9 307.5 L702.5 311.2 Z" fill="#958cd2" opacity="0.67"/><path d="M661.9 317.3 L664.4 314.3 L668.8 317.3 Z" fill="#958cd2" opacity="0.74"/><path d="M672.0 301.6 L674.1 296.6 L675.9 301.6 Z" fill="#958cd2" opacity="0.46"/><path d="M683.7 311.2 L686.5 305.8 L688.3 311.2 Z" fill="#958cd2" opacity="0.39"/>
<path d="M766.3 256.3 L769.6 252.7 L772.2 256.3 Z" fill="#958cd2" opacity="0.30"/><path d="M725.1 271.3 L728.4 266.4 L730.5 271.3 Z" fill="#958cd2" opacity="0.42"/><path d="M753.9 259.9 L757.1 255.3 L760.1 259.9 Z" fill="#958cd2" opacity="0.39"/><path d="M763.1 261.8 L766.4 257.1 L770.4 261.8 Z" fill="#958cd2" opacity="0.68"/><path d="M784.5 276.2 L787.6 272.1 L791.9 276.2 Z" fill="#958cd2" opacity="0.34"/><path d="M742.4 263.1 L746.7 258.6 L750.4 263.1 Z" fill="#958cd2" opacity="0.39"/><path d="M732.3 280.0 L736.6 275.8 L740.1 280.0 Z" fill="#958cd2" opacity="0.59"/><path d="M771.2 255.1 L772.7 251.3 L775.1 255.1 Z" fill="#958cd2" opacity="0.57"/><path d="M743.2 265.9 L747.3 261.6 L750.9 265.9 Z" fill="#958cd2" opacity="0.35"/><path d="M750.1 275.4 L753.8 272.2 L756.1 275.4 Z" fill="#958cd2" opacity="0.39"/><path d="M752.1 264.1 L756.5 261.2 L759.4 264.1 Z" fill="#958cd2" opacity="0.45"/><path d="M742.0 263.5 L745.7 259.6 L747.5 263.5 Z" fill="#958cd2" opacity="0.36"/><path d="M779.1 272.1 L782.1 268.1 L786.2 272.1 Z" fill="#958cd2" opacity="0.74"/><path d="M792.5 267.2 L796.6 262.0 L799.3 267.2 Z" fill="#958cd2" opacity="0.50"/><path d="M764.6 259.3 L766.7 254.5 L770.5 259.3 Z" fill="#958cd2" opacity="0.48"/><path d="M756.6 261.3 L758.6 256.4 L762.5 261.3 Z" fill="#958cd2" opacity="0.38"/>
<path d="M723.0 214.7 L725.8 211.8 L729.2 214.7 Z" fill="#958cd2" opacity="0.54"/><path d="M736.6 214.1 L737.6 210.3 L740.2 214.1 Z" fill="#958cd2" opacity="0.33"/><path d="M715.2 214.8 L718.1 211.5 L719.2 214.8 Z" fill="#958cd2" opacity="0.58"/><path d="M717.3 211.7 L720.6 208.9 L724.9 211.7 Z" fill="#958cd2" opacity="0.69"/><path d="M730.4 214.5 L733.0 209.7 L735.2 214.5 Z" fill="#958cd2" opacity="0.38"/>
<path d="M560.1 297.3 L561.6 292.9 L564.1 297.3 Z" fill="#958cd2" opacity="0.34"/><path d="M564.0 293.0 L567.1 289.1 L570.2 293.0 Z" fill="#958cd2" opacity="0.50"/><path d="M562.8 296.7 L564.3 293.4 L566.7 296.7 Z" fill="#958cd2" opacity="0.31"/><path d="M545.7 295.3 L549.3 292.3 L550.8 295.3 Z" fill="#958cd2" opacity="0.42"/><path d="M567.8 294.3 L570.7 289.9 L572.9 294.3 Z" fill="#958cd2" opacity="0.45"/>
<path d="M485.2 258.7 L487.0 254.4 L488.7 258.7 Z" fill="#958cd2" opacity="0.30"/><path d="M533.5 251.9 L535.7 248.1 L538.5 251.9 Z" fill="#958cd2" opacity="0.32"/><path d="M506.3 243.4 L508.4 240.5 L511.9 243.4 Z" fill="#958cd2" opacity="0.41"/><path d="M457.1 255.2 L460.2 251.0 L462.3 255.2 Z" fill="#958cd2" opacity="0.47"/><path d="M541.4 262.3 L543.2 258.2 L546.8 262.3 Z" fill="#958cd2" opacity="0.49"/><path d="M515.3 265.1 L518.0 260.9 L519.3 265.1 Z" fill="#958cd2" opacity="0.39"/><path d="M531.3 251.5 L533.4 248.0 L535.7 251.5 Z" fill="#958cd2" opacity="0.31"/><path d="M535.2 251.8 L538.6 249.1 L540.4 251.8 Z" fill="#958cd2" opacity="0.56"/><path d="M523.1 261.5 L523.9 257.9 L526.4 261.5 Z" fill="#958cd2" opacity="0.31"/><path d="M457.6 256.4 L459.0 253.1 L462.1 256.4 Z" fill="#958cd2" opacity="0.59"/>
</g>
<g filter="url(#soft)">
<g mask="url(#ma2)"><path d="M198.30 9.10 L198.05 9.80 L197.60 12.34 L197.38 14.88 L197.20 17.42 L197.05 19.96 L196.92 22.50 L196.81 25.03 L196.72 27.57 L196.62 30.11 L196.52 32.65 L196.41 35.19 L196.29 37.73 L196.15 40.27 L196.01 42.81 L195.87 45.35 L195.73 47.89 L195.59 50.43 L195.44 52.97 L195.30 55.50 L195.15 58.04 L195.01 60.58 L194.86 63.12 L194.72 65.66 L194.57 68.20 L194.43 70.74 L194.29 73.28 L194.16 75.82 L194.02 78.36 L193.88 80.90 L193.75 83.43 L193.61 85.97 L193.48 88.51 L193.35 91.05 L193.22 93.59 L193.09 96.13 L192.97 98.67 L192.84 101.21 L192.72 103.75 L192.61 106.29 L192.50 108.83 L192.39 111.37 L192.28 113.90 L192.18 116.44 L192.07 118.98 L191.96 121.52 L191.85 124.06 L191.74 126.60 L191.62 129.14 L191.50 131.68 L191.37 134.22 L191.24 136.76 L191.10 139.30 L190.96 141.83 L190.81 144.37 L190.65 146.91 L190.49 149.45 L190.32 151.99 L190.15 154.53 L189.97 157.07 L189.78 159.61 L189.58 162.15 L189.38 164.69 L189.16 167.23 L188.94 169.77 L188.71 172.30 L188.44 174.84 L188.15 177.38 L187.81 179.92 L187.37 182.46 L186.82 185.00 Q197.4 191.5 208.1 185.0 L208.05 185.00 L207.73 182.46 L207.49 179.92 L207.35 177.38 L207.23 174.84 L207.13 172.30 L207.04 169.77 L206.96 167.23 L206.87 164.69 L206.77 162.15 L206.68 159.61 L206.59 157.07 L206.50 154.53 L206.42 151.99 L206.34 149.45 L206.26 146.91 L206.18 144.37 L206.11 141.83 L206.04 139.30 L205.98 136.76 L205.93 134.22 L205.88 131.68 L205.83 129.14 L205.79 126.60 L205.75 124.06 L205.71 121.52 L205.68 118.98 L205.64 116.44 L205.60 113.90 L205.55 111.37 L205.51 108.83 L205.46 106.29 L205.40 103.75 L205.33 101.21 L205.26 98.67 L205.17 96.13 L205.06 93.59 L204.93 91.05 L204.79 88.51 L204.64 85.97 L204.49 83.43 L204.33 80.90 L204.16 78.36 L204.00 75.82 L203.84 73.28 L203.67 70.74 L203.49 68.20 L203.30 65.66 L203.10 63.12 L202.90 60.58 L202.70 58.04 L202.49 55.50 L202.28 52.97 L202.06 50.43 L201.85 47.89 L201.64 45.35 L201.43 42.81 L201.22 40.27 L201.02 37.73 L200.83 35.19 L200.65 32.65 L200.48 30.11 L200.31 27.57 L200.14 25.03 L199.96 22.50 L199.76 19.96 L199.53 17.42 L199.28 14.88 L198.99 12.34 L198.55 9.80 Z" fill="url(#ga2)"/><path d="M198.30 9.10 L198.05 9.80 L197.60 12.34 L197.38 14.88 L197.20 17.42 L197.05 19.96 L196.92 22.50 L196.81 25.03 L196.72 27.57 L196.62 30.11 L196.52 32.65 L196.41 35.19 L196.29 37.73 L196.15 40.27 L196.01 42.81 L195.87 45.35 L195.73 47.89 L195.59 50.43 L195.44 52.97 L195.30 55.50 L195.15 58.04 L195.01 60.58 L194.86 63.12 L194.72 65.66 L194.57 68.20 L194.43 70.74 L194.29 73.28 L194.16 75.82 L194.02 78.36 L193.88 80.90 L193.75 83.43 L193.61 85.97 L193.48 88.51 L193.35 91.05 L193.22 93.59 L193.09 96.13 L192.97 98.67 L192.84 101.21 L192.72 103.75 L192.61 106.29 L192.50 108.83 L192.39 111.37 L192.28 113.90 L192.18 116.44 L192.07 118.98 L191.96 121.52 L191.85 124.06 L191.74 126.60 L191.62 129.14 L191.50 131.68 L191.37 134.22 L191.24 136.76 L191.10 139.30 L190.96 141.83 L190.81 144.37 L190.65 146.91 L190.49 149.45 L190.32 151.99 L190.15 154.53 L189.97 157.07 L189.78 159.61 L189.58 162.15 L189.38 164.69 L189.16 167.23 L188.94 169.77 L188.71 172.30 L188.44 174.84 L188.15 177.38 L187.81 179.92 L187.37 182.46 L186.82 185.00 Q197.4 191.5 208.1 185.0 L208.05 185.00 L207.73 182.46 L207.49 179.92 L207.35 177.38 L207.23 174.84 L207.13 172.30 L207.04 169.77 L206.96 167.23 L206.87 164.69 L206.77 162.15 L206.68 159.61 L206.59 157.07 L206.50 154.53 L206.42 151.99 L206.34 149.45 L206.26 146.91 L206.18 144.37 L206.11 141.83 L206.04 139.30 L205.98 136.76 L205.93 134.22 L205.88 131.68 L205.83 129.14 L205.79 126.60 L205.75 124.06 L205.71 121.52 L205.68 118.98 L205.64 116.44 L205.60 113.90 L205.55 111.37 L205.51 108.83 L205.46 106.29 L205.40 103.75 L205.33 101.21 L205.26 98.67 L205.17 96.13 L205.06 93.59 L204.93 91.05 L204.79 88.51 L204.64 85.97 L204.49 83.43 L204.33 80.90 L204.16 78.36 L204.00 75.82 L203.84 73.28 L203.67 70.74 L203.49 68.20 L203.30 65.66 L203.10 63.12 L202.90 60.58 L202.70 58.04 L202.49 55.50 L202.28 52.97 L202.06 50.43 L201.85 47.89 L201.64 45.35 L201.43 42.81 L201.22 40.27 L201.02 37.73 L200.83 35.19 L200.65 32.65 L200.48 30.11 L200.31 27.57 L200.14 25.03 L199.96 22.50 L199.76 19.96 L199.53 17.42 L199.28 14.88 L198.99 12.34 L198.55 9.80 Z" fill="url(#shade)"/><path d="M198.30 9.10 L198.05 9.80 L197.60 12.34 L197.38 14.88 L197.20 17.42 L197.05 19.96 L196.92 22.50 L196.81 25.03 L196.72 27.57 L196.62 30.11 L196.52 32.65 L196.41 35.19 L196.29 37.73 L196.15 40.27 L196.01 42.81 L195.87 45.35 L195.73 47.89 L195.59 50.43 L195.44 52.97 L195.30 55.50 L195.15 58.04 L195.01 60.58 L194.86 63.12 L194.72 65.66 L194.57 68.20 L194.43 70.74 L194.29 73.28 L194.16 75.82 L194.02 78.36 L193.88 80.90 L193.75 83.43 L193.61 85.97 L193.48 88.51 L193.35 91.05 L193.22 93.59 L193.09 96.13 L192.97 98.67 L192.84 101.21 L192.72 103.75 L192.61 106.29 L192.50 108.83 L192.39 111.37 L192.28 113.90 L192.18 116.44 L192.07 118.98 L191.96 121.52 L191.85 124.06 L191.74 126.60 L191.62 129.14 L191.50 131.68 L191.37 134.22 L191.24 136.76 L191.10 139.30 L190.96 141.83 L190.81 144.37 L190.65 146.91 L190.49 149.45 L190.32 151.99 L190.15 154.53 L189.97 157.07 L189.78 159.61 L189.58 162.15 L189.38 164.69 L189.16 167.23 L188.94 169.77 L188.71 172.30 L188.44 174.84 L188.15 177.38 L187.81 179.92 L187.37 182.46 L186.82 185.00 Q197.4 191.5 208.1 185.0 L208.05 185.00 L207.73 182.46 L207.49 179.92 L207.35 177.38 L207.23 174.84 L207.13 172.30 L207.04 169.77 L206.96 167.23 L206.87 164.69 L206.77 162.15 L206.68 159.61 L206.59 157.07 L206.50 154.53 L206.42 151.99 L206.34 149.45 L206.26 146.91 L206.18 144.37 L206.11 141.83 L206.04 139.30 L205.98 136.76 L205.93 134.22 L205.88 131.68 L205.83 129.14 L205.79 126.60 L205.75 124.06 L205.71 121.52 L205.68 118.98 L205.64 116.44 L205.60 113.90 L205.55 111.37 L205.51 108.83 L205.46 106.29 L205.40 103.75 L205.33 101.21 L205.26 98.67 L205.17 96.13 L205.06 93.59 L204.93 91.05 L204.79 88.51 L204.64 85.97 L204.49 83.43 L204.33 80.90 L204.16 78.36 L204.00 75.82 L203.84 73.28 L203.67 70.74 L203.49 68.20 L203.30 65.66 L203.10 63.12 L202.90 60.58 L202.70 58.04 L202.49 55.50 L202.28 52.97 L202.06 50.43 L201.85 47.89 L201.64 45.35 L201.43 42.81 L201.22 40.27 L201.02 37.73 L200.83 35.19 L200.65 32.65 L200.48 30.11 L200.31 27.57 L200.14 25.03 L199.96 22.50 L199.76 19.96 L199.53 17.42 L199.28 14.88 L198.99 12.34 L198.55 9.80 Z" fill="url(#ta2)"/></g><path d="M189.8 169.8 L189.6 172.3 L189.3 174.8 L189.0 177.4 L188.7 179.9 L188.3 182.5 L187.7 185.0" fill="none" stroke="#1c1458" stroke-opacity="0.8" stroke-width="2.2" filter="url(#b1)"/><ellipse cx="188.0" cy="183.5" rx="2.2" ry="4.2" fill="#24145c" opacity="0.85" filter="url(#b1)"/>
<g mask="url(#ma5)"><path d="M305.70 153.80 L305.45 154.50 L305.40 155.20 L305.30 155.91 L305.16 156.61 L305.00 157.31 L304.78 158.01 L304.45 158.72 L304.11 159.42 L303.87 160.12 L303.70 160.83 L303.54 161.53 L303.40 162.23 L303.27 162.93 L303.15 163.64 L303.03 164.34 L302.93 165.04 L302.83 165.75 L302.73 166.45 L302.64 167.15 L302.55 167.86 L302.45 168.56 L302.36 169.26 L302.26 169.96 L302.15 170.67 L302.06 171.37 L301.96 172.07 L301.87 172.78 L301.78 173.48 L301.70 174.18 L301.61 174.88 L301.53 175.59 L301.45 176.29 L301.37 176.99 L301.28 177.70 L301.20 178.40 L301.12 179.10 L301.03 179.80 L300.94 180.51 L300.85 181.21 L300.76 181.91 L300.66 182.62 L300.56 183.32 L300.45 184.02 L300.34 184.72 L300.23 185.43 L300.11 186.13 L299.99 186.83 L299.87 187.54 L299.74 188.24 L299.61 188.94 L299.48 189.64 L299.34 190.35 L299.20 191.05 L299.06 191.75 L298.91 192.46 L298.76 193.16 L298.60 193.86 L298.44 194.57 L298.27 195.27 L298.10 195.97 L297.92 196.67 L297.74 197.38 L297.55 198.08 L297.35 198.78 L297.15 199.49 L296.94 200.19 L296.70 200.89 L296.43 201.59 L296.14 202.30 L295.84 203.00 Q303.8 209.5 311.8 203.0 L311.80 203.00 L311.66 202.30 L311.51 201.59 L311.38 200.89 L311.27 200.19 L311.19 199.49 L311.12 198.78 L311.05 198.08 L310.99 197.38 L310.93 196.67 L310.88 195.97 L310.83 195.27 L310.78 194.57 L310.74 193.86 L310.69 193.16 L310.65 192.46 L310.61 191.75 L310.57 191.05 L310.53 190.35 L310.49 189.64 L310.45 188.94 L310.41 188.24 L310.37 187.54 L310.33 186.83 L310.28 186.13 L310.23 185.43 L310.18 184.72 L310.13 184.02 L310.08 183.32 L310.03 182.62 L309.98 181.91 L309.93 181.21 L309.87 180.51 L309.82 179.80 L309.77 179.10 L309.72 178.40 L309.67 177.70 L309.62 176.99 L309.56 176.29 L309.51 175.59 L309.45 174.88 L309.39 174.18 L309.33 173.48 L309.27 172.78 L309.20 172.07 L309.14 171.37 L309.07 170.67 L309.00 169.96 L308.92 169.26 L308.85 168.56 L308.78 167.86 L308.71 167.15 L308.64 166.45 L308.56 165.75 L308.48 165.04 L308.39 164.34 L308.29 163.64 L308.18 162.93 L308.06 162.23 L307.93 161.53 L307.79 160.83 L307.63 160.12 L307.39 159.42 L307.01 158.72 L306.64 158.01 L306.40 157.31 L306.24 156.61 L306.09 155.91 L305.99 155.20 L305.95 154.50 Z" fill="url(#ga5)"/><path d="M305.70 153.80 L305.45 154.50 L305.40 155.20 L305.30 155.91 L305.16 156.61 L305.00 157.31 L304.78 158.01 L304.45 158.72 L304.11 159.42 L303.87 160.12 L303.70 160.83 L303.54 161.53 L303.40 162.23 L303.27 162.93 L303.15 163.64 L303.03 164.34 L302.93 165.04 L302.83 165.75 L302.73 166.45 L302.64 167.15 L302.55 167.86 L302.45 168.56 L302.36 169.26 L302.26 169.96 L302.15 170.67 L302.06 171.37 L301.96 172.07 L301.87 172.78 L301.78 173.48 L301.70 174.18 L301.61 174.88 L301.53 175.59 L301.45 176.29 L301.37 176.99 L301.28 177.70 L301.20 178.40 L301.12 179.10 L301.03 179.80 L300.94 180.51 L300.85 181.21 L300.76 181.91 L300.66 182.62 L300.56 183.32 L300.45 184.02 L300.34 184.72 L300.23 185.43 L300.11 186.13 L299.99 186.83 L299.87 187.54 L299.74 188.24 L299.61 188.94 L299.48 189.64 L299.34 190.35 L299.20 191.05 L299.06 191.75 L298.91 192.46 L298.76 193.16 L298.60 193.86 L298.44 194.57 L298.27 195.27 L298.10 195.97 L297.92 196.67 L297.74 197.38 L297.55 198.08 L297.35 198.78 L297.15 199.49 L296.94 200.19 L296.70 200.89 L296.43 201.59 L296.14 202.30 L295.84 203.00 Q303.8 209.5 311.8 203.0 L311.80 203.00 L311.66 202.30 L311.51 201.59 L311.38 200.89 L311.27 200.19 L311.19 199.49 L311.12 198.78 L311.05 198.08 L310.99 197.38 L310.93 196.67 L310.88 195.97 L310.83 195.27 L310.78 194.57 L310.74 193.86 L310.69 193.16 L310.65 192.46 L310.61 191.75 L310.57 191.05 L310.53 190.35 L310.49 189.64 L310.45 188.94 L310.41 188.24 L310.37 187.54 L310.33 186.83 L310.28 186.13 L310.23 185.43 L310.18 184.72 L310.13 184.02 L310.08 183.32 L310.03 182.62 L309.98 181.91 L309.93 181.21 L309.87 180.51 L309.82 179.80 L309.77 179.10 L309.72 178.40 L309.67 177.70 L309.62 176.99 L309.56 176.29 L309.51 175.59 L309.45 174.88 L309.39 174.18 L309.33 173.48 L309.27 172.78 L309.20 172.07 L309.14 171.37 L309.07 170.67 L309.00 169.96 L308.92 169.26 L308.85 168.56 L308.78 167.86 L308.71 167.15 L308.64 166.45 L308.56 165.75 L308.48 165.04 L308.39 164.34 L308.29 163.64 L308.18 162.93 L308.06 162.23 L307.93 161.53 L307.79 160.83 L307.63 160.12 L307.39 159.42 L307.01 158.72 L306.64 158.01 L306.40 157.31 L306.24 156.61 L306.09 155.91 L305.99 155.20 L305.95 154.50 Z" fill="url(#shade)"/></g><ellipse cx="297.0" cy="201.5" rx="2.2" ry="4.2" fill="#24145c" opacity="0.85" filter="url(#b1)"/>
<g mask="url(#ma1)"><path d="M111.40 87.80 L111.15 88.50 L110.79 90.44 L110.57 92.38 L110.42 94.33 L110.27 96.27 L110.15 98.21 L110.03 100.15 L109.93 102.09 L109.84 104.04 L109.75 105.98 L109.67 107.92 L109.60 109.86 L109.52 111.80 L109.45 113.75 L109.39 115.69 L109.31 117.63 L109.24 119.57 L109.16 121.51 L109.07 123.46 L108.98 125.40 L108.89 127.34 L108.79 129.28 L108.70 131.22 L108.61 133.17 L108.52 135.11 L108.43 137.05 L108.34 138.99 L108.24 140.93 L108.15 142.88 L108.05 144.82 L107.96 146.76 L107.85 148.70 L107.75 150.64 L107.64 152.59 L107.53 154.53 L107.41 156.47 L107.29 158.41 L107.16 160.36 L107.03 162.30 L106.90 164.24 L106.76 166.18 L106.61 168.12 L106.47 170.07 L106.32 172.01 L106.17 173.95 L106.01 175.89 L105.85 177.83 L105.69 179.78 L105.53 181.72 L105.37 183.66 L105.20 185.60 L105.03 187.54 L104.86 189.49 L104.69 191.43 L104.51 193.37 L104.33 195.31 L104.14 197.25 L103.94 199.20 L103.74 201.14 L103.53 203.08 L103.30 205.02 L103.07 206.96 L102.83 208.91 L102.59 210.85 L102.34 212.79 L102.06 214.73 L101.74 216.67 L101.36 218.62 L100.91 220.56 L100.18 222.50 Q110.4 229.0 120.7 222.5 L120.69 222.50 L120.19 220.56 L119.95 218.62 L119.76 216.67 L119.60 214.73 L119.48 212.79 L119.37 210.85 L119.27 208.91 L119.17 206.96 L119.07 205.02 L118.98 203.08 L118.90 201.14 L118.82 199.20 L118.74 197.25 L118.67 195.31 L118.60 193.37 L118.53 191.43 L118.46 189.49 L118.39 187.54 L118.32 185.60 L118.25 183.66 L118.18 181.72 L118.12 179.78 L118.06 177.83 L117.99 175.89 L117.94 173.95 L117.88 172.01 L117.82 170.07 L117.75 168.12 L117.69 166.18 L117.62 164.24 L117.56 162.30 L117.48 160.36 L117.40 158.41 L117.32 156.47 L117.23 154.53 L117.13 152.59 L117.01 150.64 L116.89 148.70 L116.76 146.76 L116.62 144.82 L116.47 142.88 L116.32 140.93 L116.16 138.99 L116.00 137.05 L115.84 135.11 L115.68 133.17 L115.51 131.22 L115.35 129.28 L115.19 127.34 L115.03 125.40 L114.88 123.46 L114.73 121.51 L114.59 119.57 L114.45 117.63 L114.31 115.69 L114.17 113.75 L114.03 111.80 L113.88 109.86 L113.73 107.92 L113.58 105.98 L113.42 104.04 L113.26 102.09 L113.08 100.15 L112.89 98.21 L112.69 96.27 L112.48 94.33 L112.26 92.38 L111.99 90.44 L111.65 88.50 Z" fill="url(#ga1)"/><path d="M111.40 87.80 L111.15 88.50 L110.79 90.44 L110.57 92.38 L110.42 94.33 L110.27 96.27 L110.15 98.21 L110.03 100.15 L109.93 102.09 L109.84 104.04 L109.75 105.98 L109.67 107.92 L109.60 109.86 L109.52 111.80 L109.45 113.75 L109.39 115.69 L109.31 117.63 L109.24 119.57 L109.16 121.51 L109.07 123.46 L108.98 125.40 L108.89 127.34 L108.79 129.28 L108.70 131.22 L108.61 133.17 L108.52 135.11 L108.43 137.05 L108.34 138.99 L108.24 140.93 L108.15 142.88 L108.05 144.82 L107.96 146.76 L107.85 148.70 L107.75 150.64 L107.64 152.59 L107.53 154.53 L107.41 156.47 L107.29 158.41 L107.16 160.36 L107.03 162.30 L106.90 164.24 L106.76 166.18 L106.61 168.12 L106.47 170.07 L106.32 172.01 L106.17 173.95 L106.01 175.89 L105.85 177.83 L105.69 179.78 L105.53 181.72 L105.37 183.66 L105.20 185.60 L105.03 187.54 L104.86 189.49 L104.69 191.43 L104.51 193.37 L104.33 195.31 L104.14 197.25 L103.94 199.20 L103.74 201.14 L103.53 203.08 L103.30 205.02 L103.07 206.96 L102.83 208.91 L102.59 210.85 L102.34 212.79 L102.06 214.73 L101.74 216.67 L101.36 218.62 L100.91 220.56 L100.18 222.50 Q110.4 229.0 120.7 222.5 L120.69 222.50 L120.19 220.56 L119.95 218.62 L119.76 216.67 L119.60 214.73 L119.48 212.79 L119.37 210.85 L119.27 208.91 L119.17 206.96 L119.07 205.02 L118.98 203.08 L118.90 201.14 L118.82 199.20 L118.74 197.25 L118.67 195.31 L118.60 193.37 L118.53 191.43 L118.46 189.49 L118.39 187.54 L118.32 185.60 L118.25 183.66 L118.18 181.72 L118.12 179.78 L118.06 177.83 L117.99 175.89 L117.94 173.95 L117.88 172.01 L117.82 170.07 L117.75 168.12 L117.69 166.18 L117.62 164.24 L117.56 162.30 L117.48 160.36 L117.40 158.41 L117.32 156.47 L117.23 154.53 L117.13 152.59 L117.01 150.64 L116.89 148.70 L116.76 146.76 L116.62 144.82 L116.47 142.88 L116.32 140.93 L116.16 138.99 L116.00 137.05 L115.84 135.11 L115.68 133.17 L115.51 131.22 L115.35 129.28 L115.19 127.34 L115.03 125.40 L114.88 123.46 L114.73 121.51 L114.59 119.57 L114.45 117.63 L114.31 115.69 L114.17 113.75 L114.03 111.80 L113.88 109.86 L113.73 107.92 L113.58 105.98 L113.42 104.04 L113.26 102.09 L113.08 100.15 L112.89 98.21 L112.69 96.27 L112.48 94.33 L112.26 92.38 L111.99 90.44 L111.65 88.50 Z" fill="url(#shade)"/><path d="M111.40 87.80 L111.15 88.50 L110.79 90.44 L110.57 92.38 L110.42 94.33 L110.27 96.27 L110.15 98.21 L110.03 100.15 L109.93 102.09 L109.84 104.04 L109.75 105.98 L109.67 107.92 L109.60 109.86 L109.52 111.80 L109.45 113.75 L109.39 115.69 L109.31 117.63 L109.24 119.57 L109.16 121.51 L109.07 123.46 L108.98 125.40 L108.89 127.34 L108.79 129.28 L108.70 131.22 L108.61 133.17 L108.52 135.11 L108.43 137.05 L108.34 138.99 L108.24 140.93 L108.15 142.88 L108.05 144.82 L107.96 146.76 L107.85 148.70 L107.75 150.64 L107.64 152.59 L107.53 154.53 L107.41 156.47 L107.29 158.41 L107.16 160.36 L107.03 162.30 L106.90 164.24 L106.76 166.18 L106.61 168.12 L106.47 170.07 L106.32 172.01 L106.17 173.95 L106.01 175.89 L105.85 177.83 L105.69 179.78 L105.53 181.72 L105.37 183.66 L105.20 185.60 L105.03 187.54 L104.86 189.49 L104.69 191.43 L104.51 193.37 L104.33 195.31 L104.14 197.25 L103.94 199.20 L103.74 201.14 L103.53 203.08 L103.30 205.02 L103.07 206.96 L102.83 208.91 L102.59 210.85 L102.34 212.79 L102.06 214.73 L101.74 216.67 L101.36 218.62 L100.91 220.56 L100.18 222.50 Q110.4 229.0 120.7 222.5 L120.69 222.50 L120.19 220.56 L119.95 218.62 L119.76 216.67 L119.60 214.73 L119.48 212.79 L119.37 210.85 L119.27 208.91 L119.17 206.96 L119.07 205.02 L118.98 203.08 L118.90 201.14 L118.82 199.20 L118.74 197.25 L118.67 195.31 L118.60 193.37 L118.53 191.43 L118.46 189.49 L118.39 187.54 L118.32 185.60 L118.25 183.66 L118.18 181.72 L118.12 179.78 L118.06 177.83 L117.99 175.89 L117.94 173.95 L117.88 172.01 L117.82 170.07 L117.75 168.12 L117.69 166.18 L117.62 164.24 L117.56 162.30 L117.48 160.36 L117.40 158.41 L117.32 156.47 L117.23 154.53 L117.13 152.59 L117.01 150.64 L116.89 148.70 L116.76 146.76 L116.62 144.82 L116.47 142.88 L116.32 140.93 L116.16 138.99 L116.00 137.05 L115.84 135.11 L115.68 133.17 L115.51 131.22 L115.35 129.28 L115.19 127.34 L115.03 125.40 L114.88 123.46 L114.73 121.51 L114.59 119.57 L114.45 117.63 L114.31 115.69 L114.17 113.75 L114.03 111.80 L113.88 109.86 L113.73 107.92 L113.58 105.98 L113.42 104.04 L113.26 102.09 L113.08 100.15 L112.89 98.21 L112.69 96.27 L112.48 94.33 L112.26 92.38 L111.99 90.44 L111.65 88.50 Z" fill="url(#ta1)"/></g><path d="M104.0 207.0 L103.7 208.9 L103.5 210.8 L103.2 212.8 L103.0 214.7 L102.6 216.7 L102.3 218.6 L101.8 220.6 L101.1 222.5" fill="none" stroke="#1c1458" stroke-opacity="0.8" stroke-width="2.2" filter="url(#b1)"/><ellipse cx="101.4" cy="221.0" rx="2.2" ry="4.2" fill="#24145c" opacity="0.85" filter="url(#b1)"/>
<g mask="url(#ma4)"><path d="M324.45 129.05 L324.20 129.75 L323.85 131.70 L323.59 133.64 L323.36 135.59 L323.15 137.53 L322.96 139.48 L322.77 141.42 L322.60 143.37 L322.44 145.32 L322.29 147.26 L322.14 149.21 L322.01 151.15 L321.87 153.10 L321.75 155.04 L321.62 156.99 L321.51 158.93 L321.39 160.88 L321.29 162.83 L321.18 164.77 L321.08 166.72 L320.98 168.66 L320.89 170.61 L320.80 172.55 L320.71 174.50 L320.62 176.45 L320.53 178.39 L320.45 180.34 L320.37 182.28 L320.28 184.23 L320.20 186.17 L320.13 188.12 L320.07 190.07 L320.01 192.01 L319.95 193.96 L319.89 195.90 L319.83 197.85 L319.75 199.79 L319.67 201.74 L319.57 203.68 L319.46 205.63 L319.28 207.58 L319.04 209.52 L318.76 211.47 L318.49 213.41 L318.23 215.36 L318.02 217.30 L317.85 219.25 L317.71 221.20 L317.59 223.14 L317.47 225.09 L317.36 227.03 L317.26 228.98 L317.15 230.92 L317.04 232.87 L316.91 234.82 L316.77 236.76 L316.62 238.71 L316.44 240.65 L316.22 242.60 L315.97 244.54 L315.70 246.49 L315.40 248.43 L315.07 250.38 L314.73 252.33 L314.38 254.27 L314.02 256.22 L313.61 258.16 L313.16 260.11 L312.69 262.05 L312.19 264.00 Q322.3 270.5 332.3 264.0 L332.34 264.00 L332.13 262.05 L331.93 260.11 L331.75 258.16 L331.59 256.22 L331.45 254.27 L331.33 252.33 L331.22 250.38 L331.12 248.43 L331.03 246.49 L330.94 244.54 L330.86 242.60 L330.78 240.65 L330.70 238.71 L330.63 236.76 L330.57 234.82 L330.52 232.87 L330.46 230.92 L330.41 228.98 L330.36 227.03 L330.30 225.09 L330.24 223.14 L330.17 221.20 L330.09 219.25 L329.99 217.30 L329.84 215.36 L329.65 213.41 L329.42 211.47 L329.19 209.52 L328.99 207.58 L328.83 205.63 L328.74 203.68 L328.66 201.74 L328.60 199.79 L328.54 197.85 L328.49 195.90 L328.45 193.96 L328.40 192.01 L328.35 190.07 L328.30 188.12 L328.24 186.17 L328.17 184.23 L328.10 182.28 L328.02 180.34 L327.93 178.39 L327.84 176.45 L327.75 174.50 L327.66 172.55 L327.56 170.61 L327.46 168.66 L327.36 166.72 L327.25 164.77 L327.14 162.83 L327.04 160.88 L326.93 158.93 L326.81 156.99 L326.70 155.04 L326.59 153.10 L326.49 151.15 L326.38 149.21 L326.28 147.26 L326.17 145.32 L326.06 143.37 L325.93 141.42 L325.80 139.48 L325.65 137.53 L325.48 135.59 L325.29 133.64 L325.05 131.70 L324.70 129.75 Z" fill="url(#ga4)"/><path d="M324.45 129.05 L324.20 129.75 L323.85 131.70 L323.59 133.64 L323.36 135.59 L323.15 137.53 L322.96 139.48 L322.77 141.42 L322.60 143.37 L322.44 145.32 L322.29 147.26 L322.14 149.21 L322.01 151.15 L321.87 153.10 L321.75 155.04 L321.62 156.99 L321.51 158.93 L321.39 160.88 L321.29 162.83 L321.18 164.77 L321.08 166.72 L320.98 168.66 L320.89 170.61 L320.80 172.55 L320.71 174.50 L320.62 176.45 L320.53 178.39 L320.45 180.34 L320.37 182.28 L320.28 184.23 L320.20 186.17 L320.13 188.12 L320.07 190.07 L320.01 192.01 L319.95 193.96 L319.89 195.90 L319.83 197.85 L319.75 199.79 L319.67 201.74 L319.57 203.68 L319.46 205.63 L319.28 207.58 L319.04 209.52 L318.76 211.47 L318.49 213.41 L318.23 215.36 L318.02 217.30 L317.85 219.25 L317.71 221.20 L317.59 223.14 L317.47 225.09 L317.36 227.03 L317.26 228.98 L317.15 230.92 L317.04 232.87 L316.91 234.82 L316.77 236.76 L316.62 238.71 L316.44 240.65 L316.22 242.60 L315.97 244.54 L315.70 246.49 L315.40 248.43 L315.07 250.38 L314.73 252.33 L314.38 254.27 L314.02 256.22 L313.61 258.16 L313.16 260.11 L312.69 262.05 L312.19 264.00 Q322.3 270.5 332.3 264.0 L332.34 264.00 L332.13 262.05 L331.93 260.11 L331.75 258.16 L331.59 256.22 L331.45 254.27 L331.33 252.33 L331.22 250.38 L331.12 248.43 L331.03 246.49 L330.94 244.54 L330.86 242.60 L330.78 240.65 L330.70 238.71 L330.63 236.76 L330.57 234.82 L330.52 232.87 L330.46 230.92 L330.41 228.98 L330.36 227.03 L330.30 225.09 L330.24 223.14 L330.17 221.20 L330.09 219.25 L329.99 217.30 L329.84 215.36 L329.65 213.41 L329.42 211.47 L329.19 209.52 L328.99 207.58 L328.83 205.63 L328.74 203.68 L328.66 201.74 L328.60 199.79 L328.54 197.85 L328.49 195.90 L328.45 193.96 L328.40 192.01 L328.35 190.07 L328.30 188.12 L328.24 186.17 L328.17 184.23 L328.10 182.28 L328.02 180.34 L327.93 178.39 L327.84 176.45 L327.75 174.50 L327.66 172.55 L327.56 170.61 L327.46 168.66 L327.36 166.72 L327.25 164.77 L327.14 162.83 L327.04 160.88 L326.93 158.93 L326.81 156.99 L326.70 155.04 L326.59 153.10 L326.49 151.15 L326.38 149.21 L326.28 147.26 L326.17 145.32 L326.06 143.37 L325.93 141.42 L325.80 139.48 L325.65 137.53 L325.48 135.59 L325.29 133.64 L325.05 131.70 L324.70 129.75 Z" fill="url(#shade)"/><path d="M324.45 129.05 L324.20 129.75 L323.85 131.70 L323.59 133.64 L323.36 135.59 L323.15 137.53 L322.96 139.48 L322.77 141.42 L322.60 143.37 L322.44 145.32 L322.29 147.26 L322.14 149.21 L322.01 151.15 L321.87 153.10 L321.75 155.04 L321.62 156.99 L321.51 158.93 L321.39 160.88 L321.29 162.83 L321.18 164.77 L321.08 166.72 L320.98 168.66 L320.89 170.61 L320.80 172.55 L320.71 174.50 L320.62 176.45 L320.53 178.39 L320.45 180.34 L320.37 182.28 L320.28 184.23 L320.20 186.17 L320.13 188.12 L320.07 190.07 L320.01 192.01 L319.95 193.96 L319.89 195.90 L319.83 197.85 L319.75 199.79 L319.67 201.74 L319.57 203.68 L319.46 205.63 L319.28 207.58 L319.04 209.52 L318.76 211.47 L318.49 213.41 L318.23 215.36 L318.02 217.30 L317.85 219.25 L317.71 221.20 L317.59 223.14 L317.47 225.09 L317.36 227.03 L317.26 228.98 L317.15 230.92 L317.04 232.87 L316.91 234.82 L316.77 236.76 L316.62 238.71 L316.44 240.65 L316.22 242.60 L315.97 244.54 L315.70 246.49 L315.40 248.43 L315.07 250.38 L314.73 252.33 L314.38 254.27 L314.02 256.22 L313.61 258.16 L313.16 260.11 L312.69 262.05 L312.19 264.00 Q322.3 270.5 332.3 264.0 L332.34 264.00 L332.13 262.05 L331.93 260.11 L331.75 258.16 L331.59 256.22 L331.45 254.27 L331.33 252.33 L331.22 250.38 L331.12 248.43 L331.03 246.49 L330.94 244.54 L330.86 242.60 L330.78 240.65 L330.70 238.71 L330.63 236.76 L330.57 234.82 L330.52 232.87 L330.46 230.92 L330.41 228.98 L330.36 227.03 L330.30 225.09 L330.24 223.14 L330.17 221.20 L330.09 219.25 L329.99 217.30 L329.84 215.36 L329.65 213.41 L329.42 211.47 L329.19 209.52 L328.99 207.58 L328.83 205.63 L328.74 203.68 L328.66 201.74 L328.60 199.79 L328.54 197.85 L328.49 195.90 L328.45 193.96 L328.40 192.01 L328.35 190.07 L328.30 188.12 L328.24 186.17 L328.17 184.23 L328.10 182.28 L328.02 180.34 L327.93 178.39 L327.84 176.45 L327.75 174.50 L327.66 172.55 L327.56 170.61 L327.46 168.66 L327.36 166.72 L327.25 164.77 L327.14 162.83 L327.04 160.88 L326.93 158.93 L326.81 156.99 L326.70 155.04 L326.59 153.10 L326.49 151.15 L326.38 149.21 L326.28 147.26 L326.17 145.32 L326.06 143.37 L325.93 141.42 L325.80 139.48 L325.65 137.53 L325.48 135.59 L325.29 133.64 L325.05 131.70 L324.70 129.75 Z" fill="url(#ta4)"/></g><path d="M316.3 248.4 L316.0 250.4 L315.6 252.3 L315.3 254.3 L314.9 256.2 L314.5 258.2 L314.1 260.1 L313.6 262.1 L313.1 264.0" fill="none" stroke="#1c1458" stroke-opacity="0.8" stroke-width="2.2" filter="url(#b1)"/><ellipse cx="313.4" cy="262.5" rx="2.2" ry="4.2" fill="#24145c" opacity="0.85" filter="url(#b1)"/>
<g mask="url(#ma6)"><path d="M130.50 233.10 L130.25 233.80 L130.15 234.55 L130.04 235.30 L129.90 236.05 L129.75 236.80 L129.56 237.55 L129.33 238.30 L129.06 239.04 L128.78 239.79 L128.50 240.54 L128.24 241.29 L128.02 242.04 L127.83 242.79 L127.67 243.54 L127.53 244.29 L127.39 245.04 L127.26 245.79 L127.14 246.54 L127.02 247.29 L126.90 248.04 L126.79 248.79 L126.67 249.53 L126.56 250.28 L126.44 251.03 L126.33 251.78 L126.23 252.53 L126.12 253.28 L126.02 254.03 L125.92 254.78 L125.82 255.53 L125.72 256.28 L125.63 257.03 L125.53 257.78 L125.43 258.53 L125.33 259.28 L125.23 260.02 L125.13 260.77 L125.03 261.52 L124.92 262.27 L124.81 263.02 L124.70 263.77 L124.58 264.52 L124.46 265.27 L124.33 266.02 L124.20 266.77 L124.08 267.52 L123.95 268.27 L123.81 269.02 L123.68 269.77 L123.54 270.51 L123.40 271.26 L123.26 272.01 L123.11 272.76 L122.97 273.51 L122.81 274.26 L122.66 275.01 L122.49 275.76 L122.33 276.51 L122.16 277.26 L121.99 278.01 L121.81 278.76 L121.62 279.51 L121.43 280.26 L121.23 281.00 L121.01 281.75 L120.78 282.50 L120.53 283.25 L120.28 284.00 L120.03 284.75 L119.77 285.50 Q129.1 292.0 138.4 285.5 L138.39 285.50 L138.23 284.75 L138.06 284.00 L137.91 283.25 L137.75 282.50 L137.61 281.75 L137.47 281.00 L137.34 280.26 L137.22 279.51 L137.11 278.76 L137.00 278.01 L136.89 277.26 L136.79 276.51 L136.69 275.76 L136.59 275.01 L136.49 274.26 L136.40 273.51 L136.31 272.76 L136.22 272.01 L136.14 271.26 L136.05 270.51 L135.97 269.77 L135.89 269.02 L135.81 268.27 L135.74 267.52 L135.67 266.77 L135.59 266.02 L135.52 265.27 L135.46 264.52 L135.39 263.77 L135.34 263.02 L135.28 262.27 L135.23 261.52 L135.18 260.77 L135.13 260.02 L135.08 259.28 L135.04 258.53 L134.99 257.78 L134.95 257.03 L134.90 256.28 L134.85 255.53 L134.80 254.78 L134.75 254.03 L134.69 253.28 L134.63 252.53 L134.57 251.78 L134.50 251.03 L134.43 250.28 L134.35 249.53 L134.26 248.79 L134.17 248.04 L134.07 247.29 L133.95 246.54 L133.83 245.79 L133.71 245.04 L133.57 244.29 L133.42 243.54 L133.26 242.79 L133.09 242.04 L132.85 241.29 L132.58 240.54 L132.28 239.79 L131.98 239.04 L131.69 238.30 L131.44 237.55 L131.25 236.80 L131.10 236.05 L130.96 235.30 L130.84 234.55 L130.75 233.80 Z" fill="url(#ga6)"/><path d="M130.50 233.10 L130.25 233.80 L130.15 234.55 L130.04 235.30 L129.90 236.05 L129.75 236.80 L129.56 237.55 L129.33 238.30 L129.06 239.04 L128.78 239.79 L128.50 240.54 L128.24 241.29 L128.02 242.04 L127.83 242.79 L127.67 243.54 L127.53 244.29 L127.39 245.04 L127.26 245.79 L127.14 246.54 L127.02 247.29 L126.90 248.04 L126.79 248.79 L126.67 249.53 L126.56 250.28 L126.44 251.03 L126.33 251.78 L126.23 252.53 L126.12 253.28 L126.02 254.03 L125.92 254.78 L125.82 255.53 L125.72 256.28 L125.63 257.03 L125.53 257.78 L125.43 258.53 L125.33 259.28 L125.23 260.02 L125.13 260.77 L125.03 261.52 L124.92 262.27 L124.81 263.02 L124.70 263.77 L124.58 264.52 L124.46 265.27 L124.33 266.02 L124.20 266.77 L124.08 267.52 L123.95 268.27 L123.81 269.02 L123.68 269.77 L123.54 270.51 L123.40 271.26 L123.26 272.01 L123.11 272.76 L122.97 273.51 L122.81 274.26 L122.66 275.01 L122.49 275.76 L122.33 276.51 L122.16 277.26 L121.99 278.01 L121.81 278.76 L121.62 279.51 L121.43 280.26 L121.23 281.00 L121.01 281.75 L120.78 282.50 L120.53 283.25 L120.28 284.00 L120.03 284.75 L119.77 285.50 Q129.1 292.0 138.4 285.5 L138.39 285.50 L138.23 284.75 L138.06 284.00 L137.91 283.25 L137.75 282.50 L137.61 281.75 L137.47 281.00 L137.34 280.26 L137.22 279.51 L137.11 278.76 L137.00 278.01 L136.89 277.26 L136.79 276.51 L136.69 275.76 L136.59 275.01 L136.49 274.26 L136.40 273.51 L136.31 272.76 L136.22 272.01 L136.14 271.26 L136.05 270.51 L135.97 269.77 L135.89 269.02 L135.81 268.27 L135.74 267.52 L135.67 266.77 L135.59 266.02 L135.52 265.27 L135.46 264.52 L135.39 263.77 L135.34 263.02 L135.28 262.27 L135.23 261.52 L135.18 260.77 L135.13 260.02 L135.08 259.28 L135.04 258.53 L134.99 257.78 L134.95 257.03 L134.90 256.28 L134.85 255.53 L134.80 254.78 L134.75 254.03 L134.69 253.28 L134.63 252.53 L134.57 251.78 L134.50 251.03 L134.43 250.28 L134.35 249.53 L134.26 248.79 L134.17 248.04 L134.07 247.29 L133.95 246.54 L133.83 245.79 L133.71 245.04 L133.57 244.29 L133.42 243.54 L133.26 242.79 L133.09 242.04 L132.85 241.29 L132.58 240.54 L132.28 239.79 L131.98 239.04 L131.69 238.30 L131.44 237.55 L131.25 236.80 L131.10 236.05 L130.96 235.30 L130.84 234.55 L130.75 233.80 Z" fill="url(#shade)"/></g><ellipse cx="121.0" cy="284.0" rx="2.2" ry="4.2" fill="#24145c" opacity="0.85" filter="url(#b1)"/>
<g mask="url(#ma3)"><path d="M237.00 129.10 L236.75 129.80 L236.31 132.33 L236.05 134.86 L235.84 137.40 L235.65 139.93 L235.49 142.46 L235.35 144.99 L235.22 147.52 L235.10 150.06 L234.98 152.59 L234.86 155.12 L234.74 157.65 L234.62 160.18 L234.51 162.71 L234.40 165.25 L234.30 167.78 L234.20 170.31 L234.10 172.84 L234.01 175.37 L233.92 177.91 L233.82 180.44 L233.73 182.97 L233.63 185.50 L233.54 188.03 L233.44 190.57 L233.33 193.10 L233.22 195.63 L233.11 198.16 L233.00 200.69 L232.88 203.22 L232.76 205.76 L232.64 208.29 L232.52 210.82 L232.39 213.35 L232.25 215.88 L232.11 218.42 L231.96 220.95 L231.81 223.48 L231.66 226.01 L231.50 228.54 L231.33 231.08 L231.17 233.61 L231.00 236.14 L230.83 238.67 L230.66 241.20 L230.49 243.73 L230.32 246.27 L230.15 248.80 L229.98 251.33 L229.81 253.86 L229.65 256.39 L229.50 258.93 L229.35 261.46 L229.20 263.99 L229.04 266.52 L228.88 269.05 L228.72 271.59 L228.53 274.12 L228.34 276.65 L228.13 279.18 L227.89 281.71 L227.63 284.24 L227.33 286.78 L227.01 289.31 L226.65 291.84 L226.26 294.37 L225.85 296.90 L225.39 299.44 L224.84 301.97 L224.24 304.50 Q235.5 311.0 246.7 304.5 L246.75 304.50 L246.44 301.97 L246.17 299.44 L245.96 296.90 L245.78 294.37 L245.63 291.84 L245.50 289.31 L245.37 286.78 L245.26 284.24 L245.15 281.71 L245.04 279.18 L244.94 276.65 L244.85 274.12 L244.76 271.59 L244.67 269.05 L244.59 266.52 L244.51 263.99 L244.43 261.46 L244.34 258.93 L244.25 256.39 L244.15 253.86 L244.05 251.33 L243.95 248.80 L243.84 246.27 L243.73 243.73 L243.62 241.20 L243.50 238.67 L243.38 236.14 L243.26 233.61 L243.14 231.08 L243.01 228.54 L242.88 226.01 L242.74 223.48 L242.60 220.95 L242.45 218.42 L242.30 215.88 L242.14 213.35 L241.96 210.82 L241.76 208.29 L241.55 205.76 L241.33 203.22 L241.13 200.69 L240.95 198.16 L240.78 195.63 L240.65 193.10 L240.53 190.57 L240.42 188.03 L240.31 185.50 L240.22 182.97 L240.12 180.44 L240.03 177.91 L239.95 175.37 L239.86 172.84 L239.77 170.31 L239.68 167.78 L239.59 165.25 L239.48 162.71 L239.38 160.18 L239.26 157.65 L239.14 155.12 L239.02 152.59 L238.90 150.06 L238.78 147.52 L238.65 144.99 L238.51 142.46 L238.35 139.93 L238.16 137.40 L237.95 134.86 L237.69 132.33 L237.25 129.80 Z" fill="url(#ga3)"/><path d="M237.00 129.10 L236.75 129.80 L236.31 132.33 L236.05 134.86 L235.84 137.40 L235.65 139.93 L235.49 142.46 L235.35 144.99 L235.22 147.52 L235.10 150.06 L234.98 152.59 L234.86 155.12 L234.74 157.65 L234.62 160.18 L234.51 162.71 L234.40 165.25 L234.30 167.78 L234.20 170.31 L234.10 172.84 L234.01 175.37 L233.92 177.91 L233.82 180.44 L233.73 182.97 L233.63 185.50 L233.54 188.03 L233.44 190.57 L233.33 193.10 L233.22 195.63 L233.11 198.16 L233.00 200.69 L232.88 203.22 L232.76 205.76 L232.64 208.29 L232.52 210.82 L232.39 213.35 L232.25 215.88 L232.11 218.42 L231.96 220.95 L231.81 223.48 L231.66 226.01 L231.50 228.54 L231.33 231.08 L231.17 233.61 L231.00 236.14 L230.83 238.67 L230.66 241.20 L230.49 243.73 L230.32 246.27 L230.15 248.80 L229.98 251.33 L229.81 253.86 L229.65 256.39 L229.50 258.93 L229.35 261.46 L229.20 263.99 L229.04 266.52 L228.88 269.05 L228.72 271.59 L228.53 274.12 L228.34 276.65 L228.13 279.18 L227.89 281.71 L227.63 284.24 L227.33 286.78 L227.01 289.31 L226.65 291.84 L226.26 294.37 L225.85 296.90 L225.39 299.44 L224.84 301.97 L224.24 304.50 Q235.5 311.0 246.7 304.5 L246.75 304.50 L246.44 301.97 L246.17 299.44 L245.96 296.90 L245.78 294.37 L245.63 291.84 L245.50 289.31 L245.37 286.78 L245.26 284.24 L245.15 281.71 L245.04 279.18 L244.94 276.65 L244.85 274.12 L244.76 271.59 L244.67 269.05 L244.59 266.52 L244.51 263.99 L244.43 261.46 L244.34 258.93 L244.25 256.39 L244.15 253.86 L244.05 251.33 L243.95 248.80 L243.84 246.27 L243.73 243.73 L243.62 241.20 L243.50 238.67 L243.38 236.14 L243.26 233.61 L243.14 231.08 L243.01 228.54 L242.88 226.01 L242.74 223.48 L242.60 220.95 L242.45 218.42 L242.30 215.88 L242.14 213.35 L241.96 210.82 L241.76 208.29 L241.55 205.76 L241.33 203.22 L241.13 200.69 L240.95 198.16 L240.78 195.63 L240.65 193.10 L240.53 190.57 L240.42 188.03 L240.31 185.50 L240.22 182.97 L240.12 180.44 L240.03 177.91 L239.95 175.37 L239.86 172.84 L239.77 170.31 L239.68 167.78 L239.59 165.25 L239.48 162.71 L239.38 160.18 L239.26 157.65 L239.14 155.12 L239.02 152.59 L238.90 150.06 L238.78 147.52 L238.65 144.99 L238.51 142.46 L238.35 139.93 L238.16 137.40 L237.95 134.86 L237.69 132.33 L237.25 129.80 Z" fill="url(#shade)"/><path d="M237.00 129.10 L236.75 129.80 L236.31 132.33 L236.05 134.86 L235.84 137.40 L235.65 139.93 L235.49 142.46 L235.35 144.99 L235.22 147.52 L235.10 150.06 L234.98 152.59 L234.86 155.12 L234.74 157.65 L234.62 160.18 L234.51 162.71 L234.40 165.25 L234.30 167.78 L234.20 170.31 L234.10 172.84 L234.01 175.37 L233.92 177.91 L233.82 180.44 L233.73 182.97 L233.63 185.50 L233.54 188.03 L233.44 190.57 L233.33 193.10 L233.22 195.63 L233.11 198.16 L233.00 200.69 L232.88 203.22 L232.76 205.76 L232.64 208.29 L232.52 210.82 L232.39 213.35 L232.25 215.88 L232.11 218.42 L231.96 220.95 L231.81 223.48 L231.66 226.01 L231.50 228.54 L231.33 231.08 L231.17 233.61 L231.00 236.14 L230.83 238.67 L230.66 241.20 L230.49 243.73 L230.32 246.27 L230.15 248.80 L229.98 251.33 L229.81 253.86 L229.65 256.39 L229.50 258.93 L229.35 261.46 L229.20 263.99 L229.04 266.52 L228.88 269.05 L228.72 271.59 L228.53 274.12 L228.34 276.65 L228.13 279.18 L227.89 281.71 L227.63 284.24 L227.33 286.78 L227.01 289.31 L226.65 291.84 L226.26 294.37 L225.85 296.90 L225.39 299.44 L224.84 301.97 L224.24 304.50 Q235.5 311.0 246.7 304.5 L246.75 304.50 L246.44 301.97 L246.17 299.44 L245.96 296.90 L245.78 294.37 L245.63 291.84 L245.50 289.31 L245.37 286.78 L245.26 284.24 L245.15 281.71 L245.04 279.18 L244.94 276.65 L244.85 274.12 L244.76 271.59 L244.67 269.05 L244.59 266.52 L244.51 263.99 L244.43 261.46 L244.34 258.93 L244.25 256.39 L244.15 253.86 L244.05 251.33 L243.95 248.80 L243.84 246.27 L243.73 243.73 L243.62 241.20 L243.50 238.67 L243.38 236.14 L243.26 233.61 L243.14 231.08 L243.01 228.54 L242.88 226.01 L242.74 223.48 L242.60 220.95 L242.45 218.42 L242.30 215.88 L242.14 213.35 L241.96 210.82 L241.76 208.29 L241.55 205.76 L241.33 203.22 L241.13 200.69 L240.95 198.16 L240.78 195.63 L240.65 193.10 L240.53 190.57 L240.42 188.03 L240.31 185.50 L240.22 182.97 L240.12 180.44 L240.03 177.91 L239.95 175.37 L239.86 172.84 L239.77 170.31 L239.68 167.78 L239.59 165.25 L239.48 162.71 L239.38 160.18 L239.26 157.65 L239.14 155.12 L239.02 152.59 L238.90 150.06 L238.78 147.52 L238.65 144.99 L238.51 142.46 L238.35 139.93 L238.16 137.40 L237.95 134.86 L237.69 132.33 L237.25 129.80 Z" fill="url(#ta3)"/></g><path d="M227.9 289.3 L227.5 291.8 L227.2 294.4 L226.8 296.9 L226.3 299.4 L225.7 302.0 L225.1 304.5" fill="none" stroke="#1c1458" stroke-opacity="0.8" stroke-width="2.2" filter="url(#b1)"/><ellipse cx="225.4" cy="303.0" rx="2.2" ry="4.2" fill="#24145c" opacity="0.85" filter="url(#b1)"/>
<g mask="url(#mb2)"><path d="M618.00 11.00 L617.75 11.70 L617.31 14.19 L617.09 16.67 L616.91 19.16 L616.77 21.65 L616.65 24.13 L616.54 26.62 L616.44 29.11 L616.35 31.60 L616.25 34.08 L616.15 36.57 L616.02 39.06 L615.90 41.54 L615.77 44.03 L615.65 46.52 L615.52 49.00 L615.39 51.49 L615.27 53.98 L615.14 56.47 L615.02 58.95 L614.89 61.44 L614.77 63.93 L614.65 66.41 L614.53 68.90 L614.42 71.39 L614.30 73.87 L614.19 76.36 L614.08 78.85 L613.97 81.33 L613.87 83.82 L613.77 86.31 L613.66 88.80 L613.56 91.28 L613.46 93.77 L613.36 96.26 L613.25 98.74 L613.15 101.23 L613.05 103.72 L612.95 106.20 L612.85 108.69 L612.75 111.18 L612.65 113.67 L612.55 116.15 L612.45 118.64 L612.35 121.13 L612.25 123.61 L612.14 126.10 L612.03 128.59 L611.92 131.07 L611.80 133.56 L611.68 136.05 L611.55 138.53 L611.41 141.02 L611.28 143.51 L611.14 146.00 L610.99 148.48 L610.84 150.97 L610.68 153.46 L610.50 155.94 L610.32 158.43 L610.12 160.92 L609.90 163.40 L609.67 165.89 L609.41 168.38 L609.09 170.87 L608.74 173.35 L608.34 175.84 L607.89 178.33 L607.34 180.81 L606.66 183.30 Q616.9 189.8 627.1 183.3 L627.15 183.30 L626.80 180.81 L626.57 178.33 L626.41 175.84 L626.27 173.35 L626.16 170.87 L626.08 168.38 L626.01 165.89 L625.95 163.40 L625.91 160.92 L625.87 158.43 L625.84 155.94 L625.81 153.46 L625.79 150.97 L625.76 148.48 L625.73 146.00 L625.70 143.51 L625.66 141.02 L625.62 138.53 L625.57 136.05 L625.51 133.56 L625.43 131.07 L625.35 128.59 L625.27 126.10 L625.17 123.61 L625.07 121.13 L624.96 118.64 L624.84 116.15 L624.72 113.67 L624.60 111.18 L624.47 108.69 L624.34 106.20 L624.21 103.72 L624.07 101.23 L623.93 98.74 L623.76 96.26 L623.58 93.77 L623.38 91.28 L623.18 88.80 L622.96 86.31 L622.75 83.82 L622.55 81.33 L622.36 78.85 L622.19 76.36 L622.03 73.87 L621.89 71.39 L621.76 68.90 L621.63 66.41 L621.51 63.93 L621.39 61.44 L621.28 58.95 L621.17 56.47 L621.06 53.98 L620.95 51.49 L620.83 49.00 L620.72 46.52 L620.60 44.03 L620.47 41.54 L620.34 39.06 L620.20 36.57 L620.06 34.08 L619.94 31.60 L619.81 29.11 L619.67 26.62 L619.52 24.13 L619.36 21.65 L619.17 19.16 L618.95 16.67 L618.69 14.19 L618.25 11.70 Z" fill="url(#gb2)"/><path d="M618.00 11.00 L617.75 11.70 L617.31 14.19 L617.09 16.67 L616.91 19.16 L616.77 21.65 L616.65 24.13 L616.54 26.62 L616.44 29.11 L616.35 31.60 L616.25 34.08 L616.15 36.57 L616.02 39.06 L615.90 41.54 L615.77 44.03 L615.65 46.52 L615.52 49.00 L615.39 51.49 L615.27 53.98 L615.14 56.47 L615.02 58.95 L614.89 61.44 L614.77 63.93 L614.65 66.41 L614.53 68.90 L614.42 71.39 L614.30 73.87 L614.19 76.36 L614.08 78.85 L613.97 81.33 L613.87 83.82 L613.77 86.31 L613.66 88.80 L613.56 91.28 L613.46 93.77 L613.36 96.26 L613.25 98.74 L613.15 101.23 L613.05 103.72 L612.95 106.20 L612.85 108.69 L612.75 111.18 L612.65 113.67 L612.55 116.15 L612.45 118.64 L612.35 121.13 L612.25 123.61 L612.14 126.10 L612.03 128.59 L611.92 131.07 L611.80 133.56 L611.68 136.05 L611.55 138.53 L611.41 141.02 L611.28 143.51 L611.14 146.00 L610.99 148.48 L610.84 150.97 L610.68 153.46 L610.50 155.94 L610.32 158.43 L610.12 160.92 L609.90 163.40 L609.67 165.89 L609.41 168.38 L609.09 170.87 L608.74 173.35 L608.34 175.84 L607.89 178.33 L607.34 180.81 L606.66 183.30 Q616.9 189.8 627.1 183.3 L627.15 183.30 L626.80 180.81 L626.57 178.33 L626.41 175.84 L626.27 173.35 L626.16 170.87 L626.08 168.38 L626.01 165.89 L625.95 163.40 L625.91 160.92 L625.87 158.43 L625.84 155.94 L625.81 153.46 L625.79 150.97 L625.76 148.48 L625.73 146.00 L625.70 143.51 L625.66 141.02 L625.62 138.53 L625.57 136.05 L625.51 133.56 L625.43 131.07 L625.35 128.59 L625.27 126.10 L625.17 123.61 L625.07 121.13 L624.96 118.64 L624.84 116.15 L624.72 113.67 L624.60 111.18 L624.47 108.69 L624.34 106.20 L624.21 103.72 L624.07 101.23 L623.93 98.74 L623.76 96.26 L623.58 93.77 L623.38 91.28 L623.18 88.80 L622.96 86.31 L622.75 83.82 L622.55 81.33 L622.36 78.85 L622.19 76.36 L622.03 73.87 L621.89 71.39 L621.76 68.90 L621.63 66.41 L621.51 63.93 L621.39 61.44 L621.28 58.95 L621.17 56.47 L621.06 53.98 L620.95 51.49 L620.83 49.00 L620.72 46.52 L620.60 44.03 L620.47 41.54 L620.34 39.06 L620.20 36.57 L620.06 34.08 L619.94 31.60 L619.81 29.11 L619.67 26.62 L619.52 24.13 L619.36 21.65 L619.17 19.16 L618.95 16.67 L618.69 14.19 L618.25 11.70 Z" fill="url(#shade)"/><path d="M618.00 11.00 L617.75 11.70 L617.31 14.19 L617.09 16.67 L616.91 19.16 L616.77 21.65 L616.65 24.13 L616.54 26.62 L616.44 29.11 L616.35 31.60 L616.25 34.08 L616.15 36.57 L616.02 39.06 L615.90 41.54 L615.77 44.03 L615.65 46.52 L615.52 49.00 L615.39 51.49 L615.27 53.98 L615.14 56.47 L615.02 58.95 L614.89 61.44 L614.77 63.93 L614.65 66.41 L614.53 68.90 L614.42 71.39 L614.30 73.87 L614.19 76.36 L614.08 78.85 L613.97 81.33 L613.87 83.82 L613.77 86.31 L613.66 88.80 L613.56 91.28 L613.46 93.77 L613.36 96.26 L613.25 98.74 L613.15 101.23 L613.05 103.72 L612.95 106.20 L612.85 108.69 L612.75 111.18 L612.65 113.67 L612.55 116.15 L612.45 118.64 L612.35 121.13 L612.25 123.61 L612.14 126.10 L612.03 128.59 L611.92 131.07 L611.80 133.56 L611.68 136.05 L611.55 138.53 L611.41 141.02 L611.28 143.51 L611.14 146.00 L610.99 148.48 L610.84 150.97 L610.68 153.46 L610.50 155.94 L610.32 158.43 L610.12 160.92 L609.90 163.40 L609.67 165.89 L609.41 168.38 L609.09 170.87 L608.74 173.35 L608.34 175.84 L607.89 178.33 L607.34 180.81 L606.66 183.30 Q616.9 189.8 627.1 183.3 L627.15 183.30 L626.80 180.81 L626.57 178.33 L626.41 175.84 L626.27 173.35 L626.16 170.87 L626.08 168.38 L626.01 165.89 L625.95 163.40 L625.91 160.92 L625.87 158.43 L625.84 155.94 L625.81 153.46 L625.79 150.97 L625.76 148.48 L625.73 146.00 L625.70 143.51 L625.66 141.02 L625.62 138.53 L625.57 136.05 L625.51 133.56 L625.43 131.07 L625.35 128.59 L625.27 126.10 L625.17 123.61 L625.07 121.13 L624.96 118.64 L624.84 116.15 L624.72 113.67 L624.60 111.18 L624.47 108.69 L624.34 106.20 L624.21 103.72 L624.07 101.23 L623.93 98.74 L623.76 96.26 L623.58 93.77 L623.38 91.28 L623.18 88.80 L622.96 86.31 L622.75 83.82 L622.55 81.33 L622.36 78.85 L622.19 76.36 L622.03 73.87 L621.89 71.39 L621.76 68.90 L621.63 66.41 L621.51 63.93 L621.39 61.44 L621.28 58.95 L621.17 56.47 L621.06 53.98 L620.95 51.49 L620.83 49.00 L620.72 46.52 L620.60 44.03 L620.47 41.54 L620.34 39.06 L620.20 36.57 L620.06 34.08 L619.94 31.60 L619.81 29.11 L619.67 26.62 L619.52 24.13 L619.36 21.65 L619.17 19.16 L618.95 16.67 L618.69 14.19 L618.25 11.70 Z" fill="url(#tb2)"/></g><path d="M610.3 168.4 L610.0 170.9 L609.6 173.4 L609.2 175.8 L608.8 178.3 L608.2 180.8 L607.6 183.3" fill="none" stroke="#1c1458" stroke-opacity="0.8" stroke-width="2.2" filter="url(#b1)"/><ellipse cx="607.9" cy="181.8" rx="2.2" ry="4.2" fill="#24145c" opacity="0.85" filter="url(#b1)"/>
<path d="M728.4 169.1 L728.0 170.1 L727.6 171.1 L727.4 172.1 L727.2 173.1 L727.1 174.1 L726.9 175.2 L726.7 176.2 L726.6 177.2 L726.4 178.2 L726.3 179.2 L726.1 180.2 L725.9 181.2 L725.7 182.2 L725.5 183.2 L725.3 184.2 L725.1 185.2 L724.9 186.3 L724.6 187.3 L724.4 188.3 L724.1 189.3 L723.9 190.3 L723.6 191.3 L723.2 192.3 L722.9 193.3 L722.6 194.3 L722.2 195.3 L721.8 196.4 L721.4 197.4 L721.0 198.4 L720.5 199.4 L720.0 200.4 L719.5 201.4 L719.0 202.4 L718.4 203.4 L717.9 204.4 L717.3 205.4 L716.6 206.5 L716.0 207.5 L715.3 208.5 L714.5 209.5 L713.8 210.5 Q727.3 213.0 740.9 210.5 L740.9 210.5 L740.2 209.5 L739.6 208.5 L739.0 207.5 L738.5 206.5 L737.9 205.4 L737.4 204.4 L736.9 203.4 L736.4 202.4 L736.0 201.4 L735.6 200.4 L735.2 199.4 L734.8 198.4 L734.4 197.4 L734.1 196.4 L733.8 195.3 L733.4 194.3 L733.2 193.3 L732.9 192.3 L732.6 191.3 L732.4 190.3 L732.1 189.3 L731.9 188.3 L731.7 187.3 L731.5 186.3 L731.3 185.2 L731.2 184.2 L731.0 183.2 L730.8 182.2 L730.7 181.2 L730.5 180.2 L730.4 179.2 L730.2 178.2 L730.1 177.2 L729.9 176.2 L729.8 175.2 L729.6 174.1 L729.5 173.1 L729.3 172.1 L729.1 171.1 L728.8 170.1 Z" fill="url(#gb5)"/><path d="M728.4 169.1 L728.0 170.1 L727.6 171.1 L727.4 172.1 L727.2 173.1 L727.1 174.1 L726.9 175.2 L726.7 176.2 L726.6 177.2 L726.4 178.2 L726.3 179.2 L726.1 180.2 L725.9 181.2 L725.7 182.2 L725.5 183.2 L725.3 184.2 L725.1 185.2 L724.9 186.3 L724.6 187.3 L724.4 188.3 L724.1 189.3 L723.9 190.3 L723.6 191.3 L723.2 192.3 L722.9 193.3 L722.6 194.3 L722.2 195.3 L721.8 196.4 L721.4 197.4 L721.0 198.4 L720.5 199.4 L720.0 200.4 L719.5 201.4 L719.0 202.4 L718.4 203.4 L717.9 204.4 L717.3 205.4 L716.6 206.5 L716.0 207.5 L715.3 208.5 L714.5 209.5 L713.8 210.5 Q727.3 213.0 740.9 210.5 L740.9 210.5 L740.2 209.5 L739.6 208.5 L739.0 207.5 L738.5 206.5 L737.9 205.4 L737.4 204.4 L736.9 203.4 L736.4 202.4 L736.0 201.4 L735.6 200.4 L735.2 199.4 L734.8 198.4 L734.4 197.4 L734.1 196.4 L733.8 195.3 L733.4 194.3 L733.2 193.3 L732.9 192.3 L732.6 191.3 L732.4 190.3 L732.1 189.3 L731.9 188.3 L731.7 187.3 L731.5 186.3 L731.3 185.2 L731.2 184.2 L731.0 183.2 L730.8 182.2 L730.7 181.2 L730.5 180.2 L730.4 179.2 L730.2 178.2 L730.1 177.2 L729.9 176.2 L729.8 175.2 L729.6 174.1 L729.5 173.1 L729.3 172.1 L729.1 171.1 L728.8 170.1 Z" fill="url(#shade)" opacity="0.6"/><path d="M726.2 187.1 Q723.9 196.8 719.4 202.4" stroke="#20104e" stroke-opacity="0.95" stroke-width="3" fill="none" stroke-linecap="round" filter="url(#b1)"/>
<g mask="url(#mb1)"><path d="M531.05 91.30 L530.80 92.00 L530.46 93.91 L530.20 95.83 L529.97 97.74 L529.76 99.65 L529.57 101.57 L529.38 103.48 L529.21 105.39 L529.06 107.30 L528.91 109.22 L528.76 111.13 L528.63 113.04 L528.50 114.96 L528.38 116.87 L528.27 118.78 L528.16 120.70 L528.06 122.61 L527.97 124.52 L527.87 126.43 L527.78 128.35 L527.70 130.26 L527.61 132.17 L527.53 134.09 L527.44 136.00 L527.35 137.91 L527.26 139.83 L527.17 141.74 L527.07 143.65 L526.97 145.57 L526.86 147.48 L526.74 149.39 L526.62 151.30 L526.50 153.22 L526.37 155.13 L526.25 157.04 L526.13 158.96 L526.02 160.87 L525.91 162.78 L525.81 164.70 L525.73 166.61 L525.65 168.52 L525.59 170.43 L525.52 172.35 L525.45 174.26 L525.36 176.17 L525.27 178.09 L525.16 180.00 L525.05 181.91 L524.92 183.83 L524.79 185.74 L524.65 187.65 L524.50 189.57 L524.34 191.48 L524.18 193.39 L524.00 195.30 L523.81 197.22 L523.62 199.13 L523.42 201.04 L523.21 202.96 L522.99 204.87 L522.75 206.78 L522.50 208.70 L522.21 210.61 L521.90 212.52 L521.56 214.43 L521.19 216.35 L520.79 218.26 L520.35 220.17 L519.82 222.09 L519.17 224.00 Q529.6 230.5 539.9 224.0 L539.94 224.00 L539.60 222.09 L539.36 220.17 L539.19 218.26 L539.05 216.35 L538.93 214.43 L538.82 212.52 L538.73 210.61 L538.64 208.70 L538.55 206.78 L538.47 204.87 L538.39 202.96 L538.31 201.04 L538.24 199.13 L538.18 197.22 L538.12 195.30 L538.06 193.39 L538.00 191.48 L537.94 189.57 L537.88 187.65 L537.82 185.74 L537.75 183.83 L537.68 181.91 L537.61 180.00 L537.53 178.09 L537.43 176.17 L537.33 174.26 L537.21 172.35 L537.09 170.43 L536.96 168.52 L536.84 166.61 L536.73 164.70 L536.63 162.78 L536.52 160.87 L536.42 158.96 L536.32 157.04 L536.22 155.13 L536.12 153.22 L536.02 151.30 L535.92 149.39 L535.83 147.48 L535.73 145.57 L535.63 143.65 L535.54 141.74 L535.45 139.83 L535.37 137.91 L535.29 136.00 L535.21 134.09 L535.12 132.17 L535.04 130.26 L534.96 128.35 L534.87 126.43 L534.77 124.52 L534.67 122.61 L534.57 120.70 L534.45 118.78 L534.33 116.87 L534.20 114.96 L534.05 113.04 L533.87 111.13 L533.67 109.22 L533.46 107.30 L533.23 105.39 L532.99 103.48 L532.73 101.57 L532.47 99.65 L532.20 97.74 L531.92 95.83 L531.63 93.91 L531.30 92.00 Z" fill="url(#gb1)"/><path d="M531.05 91.30 L530.80 92.00 L530.46 93.91 L530.20 95.83 L529.97 97.74 L529.76 99.65 L529.57 101.57 L529.38 103.48 L529.21 105.39 L529.06 107.30 L528.91 109.22 L528.76 111.13 L528.63 113.04 L528.50 114.96 L528.38 116.87 L528.27 118.78 L528.16 120.70 L528.06 122.61 L527.97 124.52 L527.87 126.43 L527.78 128.35 L527.70 130.26 L527.61 132.17 L527.53 134.09 L527.44 136.00 L527.35 137.91 L527.26 139.83 L527.17 141.74 L527.07 143.65 L526.97 145.57 L526.86 147.48 L526.74 149.39 L526.62 151.30 L526.50 153.22 L526.37 155.13 L526.25 157.04 L526.13 158.96 L526.02 160.87 L525.91 162.78 L525.81 164.70 L525.73 166.61 L525.65 168.52 L525.59 170.43 L525.52 172.35 L525.45 174.26 L525.36 176.17 L525.27 178.09 L525.16 180.00 L525.05 181.91 L524.92 183.83 L524.79 185.74 L524.65 187.65 L524.50 189.57 L524.34 191.48 L524.18 193.39 L524.00 195.30 L523.81 197.22 L523.62 199.13 L523.42 201.04 L523.21 202.96 L522.99 204.87 L522.75 206.78 L522.50 208.70 L522.21 210.61 L521.90 212.52 L521.56 214.43 L521.19 216.35 L520.79 218.26 L520.35 220.17 L519.82 222.09 L519.17 224.00 Q529.6 230.5 539.9 224.0 L539.94 224.00 L539.60 222.09 L539.36 220.17 L539.19 218.26 L539.05 216.35 L538.93 214.43 L538.82 212.52 L538.73 210.61 L538.64 208.70 L538.55 206.78 L538.47 204.87 L538.39 202.96 L538.31 201.04 L538.24 199.13 L538.18 197.22 L538.12 195.30 L538.06 193.39 L538.00 191.48 L537.94 189.57 L537.88 187.65 L537.82 185.74 L537.75 183.83 L537.68 181.91 L537.61 180.00 L537.53 178.09 L537.43 176.17 L537.33 174.26 L537.21 172.35 L537.09 170.43 L536.96 168.52 L536.84 166.61 L536.73 164.70 L536.63 162.78 L536.52 160.87 L536.42 158.96 L536.32 157.04 L536.22 155.13 L536.12 153.22 L536.02 151.30 L535.92 149.39 L535.83 147.48 L535.73 145.57 L535.63 143.65 L535.54 141.74 L535.45 139.83 L535.37 137.91 L535.29 136.00 L535.21 134.09 L535.12 132.17 L535.04 130.26 L534.96 128.35 L534.87 126.43 L534.77 124.52 L534.67 122.61 L534.57 120.70 L534.45 118.78 L534.33 116.87 L534.20 114.96 L534.05 113.04 L533.87 111.13 L533.67 109.22 L533.46 107.30 L533.23 105.39 L532.99 103.48 L532.73 101.57 L532.47 99.65 L532.20 97.74 L531.92 95.83 L531.63 93.91 L531.30 92.00 Z" fill="url(#shade)"/><path d="M531.05 91.30 L530.80 92.00 L530.46 93.91 L530.20 95.83 L529.97 97.74 L529.76 99.65 L529.57 101.57 L529.38 103.48 L529.21 105.39 L529.06 107.30 L528.91 109.22 L528.76 111.13 L528.63 113.04 L528.50 114.96 L528.38 116.87 L528.27 118.78 L528.16 120.70 L528.06 122.61 L527.97 124.52 L527.87 126.43 L527.78 128.35 L527.70 130.26 L527.61 132.17 L527.53 134.09 L527.44 136.00 L527.35 137.91 L527.26 139.83 L527.17 141.74 L527.07 143.65 L526.97 145.57 L526.86 147.48 L526.74 149.39 L526.62 151.30 L526.50 153.22 L526.37 155.13 L526.25 157.04 L526.13 158.96 L526.02 160.87 L525.91 162.78 L525.81 164.70 L525.73 166.61 L525.65 168.52 L525.59 170.43 L525.52 172.35 L525.45 174.26 L525.36 176.17 L525.27 178.09 L525.16 180.00 L525.05 181.91 L524.92 183.83 L524.79 185.74 L524.65 187.65 L524.50 189.57 L524.34 191.48 L524.18 193.39 L524.00 195.30 L523.81 197.22 L523.62 199.13 L523.42 201.04 L523.21 202.96 L522.99 204.87 L522.75 206.78 L522.50 208.70 L522.21 210.61 L521.90 212.52 L521.56 214.43 L521.19 216.35 L520.79 218.26 L520.35 220.17 L519.82 222.09 L519.17 224.00 Q529.6 230.5 539.9 224.0 L539.94 224.00 L539.60 222.09 L539.36 220.17 L539.19 218.26 L539.05 216.35 L538.93 214.43 L538.82 212.52 L538.73 210.61 L538.64 208.70 L538.55 206.78 L538.47 204.87 L538.39 202.96 L538.31 201.04 L538.24 199.13 L538.18 197.22 L538.12 195.30 L538.06 193.39 L538.00 191.48 L537.94 189.57 L537.88 187.65 L537.82 185.74 L537.75 183.83 L537.68 181.91 L537.61 180.00 L537.53 178.09 L537.43 176.17 L537.33 174.26 L537.21 172.35 L537.09 170.43 L536.96 168.52 L536.84 166.61 L536.73 164.70 L536.63 162.78 L536.52 160.87 L536.42 158.96 L536.32 157.04 L536.22 155.13 L536.12 153.22 L536.02 151.30 L535.92 149.39 L535.83 147.48 L535.73 145.57 L535.63 143.65 L535.54 141.74 L535.45 139.83 L535.37 137.91 L535.29 136.00 L535.21 134.09 L535.12 132.17 L535.04 130.26 L534.96 128.35 L534.87 126.43 L534.77 124.52 L534.67 122.61 L534.57 120.70 L534.45 118.78 L534.33 116.87 L534.20 114.96 L534.05 113.04 L533.87 111.13 L533.67 109.22 L533.46 107.30 L533.23 105.39 L532.99 103.48 L532.73 101.57 L532.47 99.65 L532.20 97.74 L531.92 95.83 L531.63 93.91 L531.30 92.00 Z" fill="url(#tb1)"/></g><path d="M523.4 208.7 L523.1 210.6 L522.8 212.5 L522.5 214.4 L522.1 216.3 L521.7 218.3 L521.3 220.2 L520.7 222.1 L520.1 224.0" fill="none" stroke="#1c1458" stroke-opacity="0.8" stroke-width="2.2" filter="url(#b1)"/><ellipse cx="520.4" cy="222.5" rx="2.2" ry="4.2" fill="#24145c" opacity="0.85" filter="url(#b1)"/>
<g mask="url(#mb4)"><path d="M757.00 129.80 L756.75 130.50 L756.41 132.38 L756.17 134.26 L755.98 136.14 L755.81 138.02 L755.65 139.90 L755.51 141.78 L755.38 143.66 L755.26 145.54 L755.15 147.42 L755.05 149.30 L754.95 151.18 L754.85 153.07 L754.75 154.95 L754.66 156.83 L754.57 158.71 L754.49 160.59 L754.41 162.47 L754.34 164.35 L754.27 166.23 L754.20 168.11 L754.13 169.99 L754.06 171.87 L753.99 173.75 L753.93 175.63 L753.86 177.51 L753.79 179.39 L753.71 181.27 L753.63 183.15 L753.55 185.03 L753.46 186.91 L753.38 188.79 L753.29 190.67 L753.20 192.55 L753.11 194.43 L753.02 196.32 L752.92 198.20 L752.81 200.08 L752.70 201.96 L752.58 203.84 L752.45 205.72 L752.29 207.60 L752.10 209.48 L751.90 211.36 L751.70 213.24 L751.51 215.12 L751.34 217.00 L751.19 218.88 L751.06 220.76 L750.94 222.64 L750.83 224.52 L750.73 226.40 L750.62 228.28 L750.51 230.16 L750.40 232.04 L750.28 233.92 L750.15 235.80 L750.01 237.68 L749.84 239.57 L749.65 241.45 L749.42 243.33 L749.15 245.21 L748.86 247.09 L748.54 248.97 L748.21 250.85 L747.86 252.73 L747.47 254.61 L747.04 256.49 L746.58 258.37 L746.09 260.25 Q755.2 266.8 764.3 260.2 L764.30 260.25 L764.14 258.37 L764.00 256.49 L763.88 254.61 L763.78 252.73 L763.71 250.85 L763.66 248.97 L763.61 247.09 L763.57 245.21 L763.53 243.33 L763.49 241.45 L763.44 239.57 L763.39 237.68 L763.34 235.80 L763.29 233.92 L763.24 232.04 L763.18 230.16 L763.13 228.28 L763.07 226.40 L763.00 224.52 L762.93 222.64 L762.85 220.76 L762.77 218.88 L762.67 217.00 L762.53 215.12 L762.33 213.24 L762.12 211.36 L761.90 209.48 L761.70 207.60 L761.54 205.72 L761.44 203.84 L761.35 201.96 L761.26 200.08 L761.19 198.20 L761.12 196.32 L761.06 194.43 L761.00 192.55 L760.94 190.67 L760.88 188.79 L760.82 186.91 L760.75 185.03 L760.69 183.15 L760.62 181.27 L760.56 179.39 L760.51 177.51 L760.45 175.63 L760.39 173.75 L760.34 171.87 L760.28 169.99 L760.22 168.11 L760.16 166.23 L760.10 164.35 L760.03 162.47 L759.96 160.59 L759.88 158.71 L759.79 156.83 L759.70 154.95 L759.59 153.07 L759.47 151.18 L759.34 149.30 L759.20 147.42 L759.04 145.54 L758.87 143.66 L758.69 141.78 L758.50 139.90 L758.29 138.02 L758.07 136.14 L757.85 134.26 L757.58 132.38 L757.25 130.50 Z" fill="url(#gb4)"/><path d="M757.00 129.80 L756.75 130.50 L756.41 132.38 L756.17 134.26 L755.98 136.14 L755.81 138.02 L755.65 139.90 L755.51 141.78 L755.38 143.66 L755.26 145.54 L755.15 147.42 L755.05 149.30 L754.95 151.18 L754.85 153.07 L754.75 154.95 L754.66 156.83 L754.57 158.71 L754.49 160.59 L754.41 162.47 L754.34 164.35 L754.27 166.23 L754.20 168.11 L754.13 169.99 L754.06 171.87 L753.99 173.75 L753.93 175.63 L753.86 177.51 L753.79 179.39 L753.71 181.27 L753.63 183.15 L753.55 185.03 L753.46 186.91 L753.38 188.79 L753.29 190.67 L753.20 192.55 L753.11 194.43 L753.02 196.32 L752.92 198.20 L752.81 200.08 L752.70 201.96 L752.58 203.84 L752.45 205.72 L752.29 207.60 L752.10 209.48 L751.90 211.36 L751.70 213.24 L751.51 215.12 L751.34 217.00 L751.19 218.88 L751.06 220.76 L750.94 222.64 L750.83 224.52 L750.73 226.40 L750.62 228.28 L750.51 230.16 L750.40 232.04 L750.28 233.92 L750.15 235.80 L750.01 237.68 L749.84 239.57 L749.65 241.45 L749.42 243.33 L749.15 245.21 L748.86 247.09 L748.54 248.97 L748.21 250.85 L747.86 252.73 L747.47 254.61 L747.04 256.49 L746.58 258.37 L746.09 260.25 Q755.2 266.8 764.3 260.2 L764.30 260.25 L764.14 258.37 L764.00 256.49 L763.88 254.61 L763.78 252.73 L763.71 250.85 L763.66 248.97 L763.61 247.09 L763.57 245.21 L763.53 243.33 L763.49 241.45 L763.44 239.57 L763.39 237.68 L763.34 235.80 L763.29 233.92 L763.24 232.04 L763.18 230.16 L763.13 228.28 L763.07 226.40 L763.00 224.52 L762.93 222.64 L762.85 220.76 L762.77 218.88 L762.67 217.00 L762.53 215.12 L762.33 213.24 L762.12 211.36 L761.90 209.48 L761.70 207.60 L761.54 205.72 L761.44 203.84 L761.35 201.96 L761.26 200.08 L761.19 198.20 L761.12 196.32 L761.06 194.43 L761.00 192.55 L760.94 190.67 L760.88 188.79 L760.82 186.91 L760.75 185.03 L760.69 183.15 L760.62 181.27 L760.56 179.39 L760.51 177.51 L760.45 175.63 L760.39 173.75 L760.34 171.87 L760.28 169.99 L760.22 168.11 L760.16 166.23 L760.10 164.35 L760.03 162.47 L759.96 160.59 L759.88 158.71 L759.79 156.83 L759.70 154.95 L759.59 153.07 L759.47 151.18 L759.34 149.30 L759.20 147.42 L759.04 145.54 L758.87 143.66 L758.69 141.78 L758.50 139.90 L758.29 138.02 L758.07 136.14 L757.85 134.26 L757.58 132.38 L757.25 130.50 Z" fill="url(#shade)"/><path d="M757.00 129.80 L756.75 130.50 L756.41 132.38 L756.17 134.26 L755.98 136.14 L755.81 138.02 L755.65 139.90 L755.51 141.78 L755.38 143.66 L755.26 145.54 L755.15 147.42 L755.05 149.30 L754.95 151.18 L754.85 153.07 L754.75 154.95 L754.66 156.83 L754.57 158.71 L754.49 160.59 L754.41 162.47 L754.34 164.35 L754.27 166.23 L754.20 168.11 L754.13 169.99 L754.06 171.87 L753.99 173.75 L753.93 175.63 L753.86 177.51 L753.79 179.39 L753.71 181.27 L753.63 183.15 L753.55 185.03 L753.46 186.91 L753.38 188.79 L753.29 190.67 L753.20 192.55 L753.11 194.43 L753.02 196.32 L752.92 198.20 L752.81 200.08 L752.70 201.96 L752.58 203.84 L752.45 205.72 L752.29 207.60 L752.10 209.48 L751.90 211.36 L751.70 213.24 L751.51 215.12 L751.34 217.00 L751.19 218.88 L751.06 220.76 L750.94 222.64 L750.83 224.52 L750.73 226.40 L750.62 228.28 L750.51 230.16 L750.40 232.04 L750.28 233.92 L750.15 235.80 L750.01 237.68 L749.84 239.57 L749.65 241.45 L749.42 243.33 L749.15 245.21 L748.86 247.09 L748.54 248.97 L748.21 250.85 L747.86 252.73 L747.47 254.61 L747.04 256.49 L746.58 258.37 L746.09 260.25 Q755.2 266.8 764.3 260.2 L764.30 260.25 L764.14 258.37 L764.00 256.49 L763.88 254.61 L763.78 252.73 L763.71 250.85 L763.66 248.97 L763.61 247.09 L763.57 245.21 L763.53 243.33 L763.49 241.45 L763.44 239.57 L763.39 237.68 L763.34 235.80 L763.29 233.92 L763.24 232.04 L763.18 230.16 L763.13 228.28 L763.07 226.40 L763.00 224.52 L762.93 222.64 L762.85 220.76 L762.77 218.88 L762.67 217.00 L762.53 215.12 L762.33 213.24 L762.12 211.36 L761.90 209.48 L761.70 207.60 L761.54 205.72 L761.44 203.84 L761.35 201.96 L761.26 200.08 L761.19 198.20 L761.12 196.32 L761.06 194.43 L761.00 192.55 L760.94 190.67 L760.88 188.79 L760.82 186.91 L760.75 185.03 L760.69 183.15 L760.62 181.27 L760.56 179.39 L760.51 177.51 L760.45 175.63 L760.39 173.75 L760.34 171.87 L760.28 169.99 L760.22 168.11 L760.16 166.23 L760.10 164.35 L760.03 162.47 L759.96 160.59 L759.88 158.71 L759.79 156.83 L759.70 154.95 L759.59 153.07 L759.47 151.18 L759.34 149.30 L759.20 147.42 L759.04 145.54 L758.87 143.66 L758.69 141.78 L758.50 139.90 L758.29 138.02 L758.07 136.14 L757.85 134.26 L757.58 132.38 L757.25 130.50 Z" fill="url(#tb4)"/></g><path d="M750.3 243.3 L750.1 245.2 L749.8 247.1 L749.4 249.0 L749.1 250.8 L748.8 252.7 L748.4 254.6 L747.9 256.5 L747.5 258.4 L747.0 260.2" fill="none" stroke="#1c1458" stroke-opacity="0.8" stroke-width="2.2" filter="url(#b1)"/><ellipse cx="747.3" cy="258.8" rx="2.2" ry="4.2" fill="#24145c" opacity="0.85" filter="url(#b1)"/>
<path d="M560.2 250.3 L559.8 251.3 L559.4 252.3 L559.2 253.2 L559.0 254.2 L558.8 255.1 L558.7 256.1 L558.5 257.0 L558.3 258.0 L558.2 258.9 L558.0 259.9 L557.8 260.9 L557.7 261.8 L557.5 262.8 L557.3 263.7 L557.1 264.7 L556.9 265.6 L556.7 266.6 L556.5 267.5 L556.3 268.5 L556.0 269.4 L555.8 270.4 L555.5 271.4 L555.2 272.3 L555.0 273.3 L554.6 274.2 L554.3 275.2 L554.0 276.1 L553.7 277.1 L553.3 278.0 L552.9 279.0 L552.5 279.9 L552.1 280.9 L551.6 281.9 L551.2 282.8 L550.7 283.8 L550.2 284.7 L549.7 285.7 L549.1 286.6 L548.6 287.6 L548.0 288.5 L547.4 289.5 Q559.2 292.0 571.0 289.5 L571.0 289.5 L570.5 288.5 L570.0 287.6 L569.5 286.6 L569.1 285.7 L568.6 284.7 L568.2 283.8 L567.8 282.8 L567.4 281.9 L567.1 280.9 L566.7 279.9 L566.4 279.0 L566.1 278.0 L565.8 277.1 L565.5 276.1 L565.2 275.2 L565.0 274.2 L564.7 273.3 L564.5 272.3 L564.3 271.4 L564.1 270.4 L563.9 269.4 L563.7 268.5 L563.5 267.5 L563.3 266.6 L563.1 265.6 L563.0 264.7 L562.8 263.7 L562.7 262.8 L562.5 261.8 L562.4 260.9 L562.2 259.9 L562.1 258.9 L561.9 258.0 L561.8 257.0 L561.6 256.1 L561.5 255.1 L561.3 254.2 L561.1 253.2 L560.9 252.3 L560.6 251.3 Z" fill="url(#gb6)"/><path d="M560.2 250.3 L559.8 251.3 L559.4 252.3 L559.2 253.2 L559.0 254.2 L558.8 255.1 L558.7 256.1 L558.5 257.0 L558.3 258.0 L558.2 258.9 L558.0 259.9 L557.8 260.9 L557.7 261.8 L557.5 262.8 L557.3 263.7 L557.1 264.7 L556.9 265.6 L556.7 266.6 L556.5 267.5 L556.3 268.5 L556.0 269.4 L555.8 270.4 L555.5 271.4 L555.2 272.3 L555.0 273.3 L554.6 274.2 L554.3 275.2 L554.0 276.1 L553.7 277.1 L553.3 278.0 L552.9 279.0 L552.5 279.9 L552.1 280.9 L551.6 281.9 L551.2 282.8 L550.7 283.8 L550.2 284.7 L549.7 285.7 L549.1 286.6 L548.6 287.6 L548.0 288.5 L547.4 289.5 Q559.2 292.0 571.0 289.5 L571.0 289.5 L570.5 288.5 L570.0 287.6 L569.5 286.6 L569.1 285.7 L568.6 284.7 L568.2 283.8 L567.8 282.8 L567.4 281.9 L567.1 280.9 L566.7 279.9 L566.4 279.0 L566.1 278.0 L565.8 277.1 L565.5 276.1 L565.2 275.2 L565.0 274.2 L564.7 273.3 L564.5 272.3 L564.3 271.4 L564.1 270.4 L563.9 269.4 L563.7 268.5 L563.5 267.5 L563.3 266.6 L563.1 265.6 L563.0 264.7 L562.8 263.7 L562.7 262.8 L562.5 261.8 L562.4 260.9 L562.2 259.9 L562.1 258.9 L561.9 258.0 L561.8 257.0 L561.6 256.1 L561.5 255.1 L561.3 254.2 L561.1 253.2 L560.9 252.3 L560.6 251.3 Z" fill="url(#shade)" opacity="0.6"/><path d="M558.0 267.3 Q555.7 276.5 551.2 281.9" stroke="#20104e" stroke-opacity="0.95" stroke-width="3" fill="none" stroke-linecap="round" filter="url(#b1)"/>
<g mask="url(#mb3)"><path d="M669.60 130.40 L669.35 131.10 L668.90 133.58 L668.73 136.05 L668.61 138.53 L668.52 141.01 L668.44 143.48 L668.38 145.96 L668.32 148.44 L668.27 150.91 L668.22 153.39 L668.15 155.87 L668.07 158.34 L667.99 160.82 L667.92 163.30 L667.84 165.78 L667.77 168.25 L667.69 170.73 L667.62 173.21 L667.54 175.68 L667.46 178.16 L667.38 180.64 L667.30 183.11 L667.21 185.59 L667.11 188.07 L667.01 190.54 L666.89 193.02 L666.77 195.50 L666.63 197.97 L666.46 200.45 L666.27 202.93 L666.07 205.40 L665.86 207.88 L665.65 210.36 L665.46 212.83 L665.28 215.31 L665.11 217.79 L664.94 220.27 L664.78 222.74 L664.62 225.22 L664.46 227.70 L664.31 230.17 L664.15 232.65 L664.00 235.13 L663.84 237.60 L663.69 240.08 L663.54 242.56 L663.38 245.03 L663.22 247.51 L663.06 249.99 L662.90 252.46 L662.74 254.94 L662.59 257.42 L662.45 259.89 L662.30 262.37 L662.16 264.85 L662.01 267.32 L661.85 269.80 L661.68 272.28 L661.50 274.76 L661.30 277.23 L661.08 279.71 L660.84 282.19 L660.55 284.66 L660.21 287.14 L659.84 289.62 L659.43 292.09 L658.99 294.57 L658.51 297.05 L657.92 299.52 L657.28 302.00 Q668.7 308.5 680.2 302.0 L680.16 302.00 L679.83 299.52 L679.54 297.05 L679.32 294.57 L679.13 292.09 L678.97 289.62 L678.83 287.14 L678.69 284.66 L678.57 282.19 L678.46 279.71 L678.36 277.23 L678.26 274.76 L678.17 272.28 L678.09 269.80 L678.01 267.32 L677.93 264.85 L677.85 262.37 L677.77 259.89 L677.69 257.42 L677.60 254.94 L677.50 252.46 L677.40 249.99 L677.29 247.51 L677.18 245.03 L677.08 242.56 L676.97 240.08 L676.85 237.60 L676.74 235.13 L676.61 232.65 L676.49 230.17 L676.36 227.70 L676.22 225.22 L676.08 222.74 L675.94 220.27 L675.78 217.79 L675.62 215.31 L675.44 212.83 L675.22 210.36 L674.98 207.88 L674.72 205.40 L674.46 202.93 L674.22 200.45 L674.01 197.97 L673.83 195.50 L673.69 193.02 L673.57 190.54 L673.46 188.07 L673.36 185.59 L673.27 183.11 L673.18 180.64 L673.10 178.16 L673.02 175.68 L672.94 173.21 L672.86 170.73 L672.78 168.25 L672.68 165.78 L672.58 163.30 L672.47 160.82 L672.35 158.34 L672.21 155.87 L672.06 153.39 L671.90 150.91 L671.72 148.44 L671.53 145.96 L671.32 143.48 L671.10 141.01 L670.85 138.53 L670.58 136.05 L670.28 133.58 L669.85 131.10 Z" fill="url(#gb3)"/><path d="M669.60 130.40 L669.35 131.10 L668.90 133.58 L668.73 136.05 L668.61 138.53 L668.52 141.01 L668.44 143.48 L668.38 145.96 L668.32 148.44 L668.27 150.91 L668.22 153.39 L668.15 155.87 L668.07 158.34 L667.99 160.82 L667.92 163.30 L667.84 165.78 L667.77 168.25 L667.69 170.73 L667.62 173.21 L667.54 175.68 L667.46 178.16 L667.38 180.64 L667.30 183.11 L667.21 185.59 L667.11 188.07 L667.01 190.54 L666.89 193.02 L666.77 195.50 L666.63 197.97 L666.46 200.45 L666.27 202.93 L666.07 205.40 L665.86 207.88 L665.65 210.36 L665.46 212.83 L665.28 215.31 L665.11 217.79 L664.94 220.27 L664.78 222.74 L664.62 225.22 L664.46 227.70 L664.31 230.17 L664.15 232.65 L664.00 235.13 L663.84 237.60 L663.69 240.08 L663.54 242.56 L663.38 245.03 L663.22 247.51 L663.06 249.99 L662.90 252.46 L662.74 254.94 L662.59 257.42 L662.45 259.89 L662.30 262.37 L662.16 264.85 L662.01 267.32 L661.85 269.80 L661.68 272.28 L661.50 274.76 L661.30 277.23 L661.08 279.71 L660.84 282.19 L660.55 284.66 L660.21 287.14 L659.84 289.62 L659.43 292.09 L658.99 294.57 L658.51 297.05 L657.92 299.52 L657.28 302.00 Q668.7 308.5 680.2 302.0 L680.16 302.00 L679.83 299.52 L679.54 297.05 L679.32 294.57 L679.13 292.09 L678.97 289.62 L678.83 287.14 L678.69 284.66 L678.57 282.19 L678.46 279.71 L678.36 277.23 L678.26 274.76 L678.17 272.28 L678.09 269.80 L678.01 267.32 L677.93 264.85 L677.85 262.37 L677.77 259.89 L677.69 257.42 L677.60 254.94 L677.50 252.46 L677.40 249.99 L677.29 247.51 L677.18 245.03 L677.08 242.56 L676.97 240.08 L676.85 237.60 L676.74 235.13 L676.61 232.65 L676.49 230.17 L676.36 227.70 L676.22 225.22 L676.08 222.74 L675.94 220.27 L675.78 217.79 L675.62 215.31 L675.44 212.83 L675.22 210.36 L674.98 207.88 L674.72 205.40 L674.46 202.93 L674.22 200.45 L674.01 197.97 L673.83 195.50 L673.69 193.02 L673.57 190.54 L673.46 188.07 L673.36 185.59 L673.27 183.11 L673.18 180.64 L673.10 178.16 L673.02 175.68 L672.94 173.21 L672.86 170.73 L672.78 168.25 L672.68 165.78 L672.58 163.30 L672.47 160.82 L672.35 158.34 L672.21 155.87 L672.06 153.39 L671.90 150.91 L671.72 148.44 L671.53 145.96 L671.32 143.48 L671.10 141.01 L670.85 138.53 L670.58 136.05 L670.28 133.58 L669.85 131.10 Z" fill="url(#shade)"/><path d="M669.60 130.40 L669.35 131.10 L668.90 133.58 L668.73 136.05 L668.61 138.53 L668.52 141.01 L668.44 143.48 L668.38 145.96 L668.32 148.44 L668.27 150.91 L668.22 153.39 L668.15 155.87 L668.07 158.34 L667.99 160.82 L667.92 163.30 L667.84 165.78 L667.77 168.25 L667.69 170.73 L667.62 173.21 L667.54 175.68 L667.46 178.16 L667.38 180.64 L667.30 183.11 L667.21 185.59 L667.11 188.07 L667.01 190.54 L666.89 193.02 L666.77 195.50 L666.63 197.97 L666.46 200.45 L666.27 202.93 L666.07 205.40 L665.86 207.88 L665.65 210.36 L665.46 212.83 L665.28 215.31 L665.11 217.79 L664.94 220.27 L664.78 222.74 L664.62 225.22 L664.46 227.70 L664.31 230.17 L664.15 232.65 L664.00 235.13 L663.84 237.60 L663.69 240.08 L663.54 242.56 L663.38 245.03 L663.22 247.51 L663.06 249.99 L662.90 252.46 L662.74 254.94 L662.59 257.42 L662.45 259.89 L662.30 262.37 L662.16 264.85 L662.01 267.32 L661.85 269.80 L661.68 272.28 L661.50 274.76 L661.30 277.23 L661.08 279.71 L660.84 282.19 L660.55 284.66 L660.21 287.14 L659.84 289.62 L659.43 292.09 L658.99 294.57 L658.51 297.05 L657.92 299.52 L657.28 302.00 Q668.7 308.5 680.2 302.0 L680.16 302.00 L679.83 299.52 L679.54 297.05 L679.32 294.57 L679.13 292.09 L678.97 289.62 L678.83 287.14 L678.69 284.66 L678.57 282.19 L678.46 279.71 L678.36 277.23 L678.26 274.76 L678.17 272.28 L678.09 269.80 L678.01 267.32 L677.93 264.85 L677.85 262.37 L677.77 259.89 L677.69 257.42 L677.60 254.94 L677.50 252.46 L677.40 249.99 L677.29 247.51 L677.18 245.03 L677.08 242.56 L676.97 240.08 L676.85 237.60 L676.74 235.13 L676.61 232.65 L676.49 230.17 L676.36 227.70 L676.22 225.22 L676.08 222.74 L675.94 220.27 L675.78 217.79 L675.62 215.31 L675.44 212.83 L675.22 210.36 L674.98 207.88 L674.72 205.40 L674.46 202.93 L674.22 200.45 L674.01 197.97 L673.83 195.50 L673.69 193.02 L673.57 190.54 L673.46 188.07 L673.36 185.59 L673.27 183.11 L673.18 180.64 L673.10 178.16 L673.02 175.68 L672.94 173.21 L672.86 170.73 L672.78 168.25 L672.68 165.78 L672.58 163.30 L672.47 160.82 L672.35 158.34 L672.21 155.87 L672.06 153.39 L671.90 150.91 L671.72 148.44 L671.53 145.96 L671.32 143.48 L671.10 141.01 L670.85 138.53 L670.58 136.05 L670.28 133.58 L669.85 131.10 Z" fill="url(#tb3)"/></g><path d="M661.1 287.1 L660.7 289.6 L660.3 292.1 L659.9 294.6 L659.4 297.0 L658.8 299.5 L658.2 302.0" fill="none" stroke="#1c1458" stroke-opacity="0.8" stroke-width="2.2" filter="url(#b1)"/><ellipse cx="658.5" cy="300.5" rx="2.2" ry="4.2" fill="#24145c" opacity="0.85" filter="url(#b1)"/>
</g>
<line x1="24.30" y1="210.75" x2="24.30" y2="391.40" stroke="#000" stroke-opacity="0.74" stroke-width="1.7" stroke-dasharray="6.3 4.775"/>
<line x1="124.00" y1="341.40" x2="124.00" y2="521.10" stroke="#000" stroke-opacity="0.74" stroke-width="1.7" stroke-dasharray="6.3 4.775"/>
<line x1="405.50" y1="289.10" x2="405.50" y2="468.75" stroke="#000" stroke-opacity="0.74" stroke-width="1.7" stroke-dasharray="6.3 4.775"/>
<line x1="448.15" y1="205.90" x2="448.15" y2="385.75" stroke="#000" stroke-opacity="0.74" stroke-width="1.7" stroke-dasharray="6.3 4.775"/>
<line x1="551.85" y1="341.75" x2="551.85" y2="521.50" stroke="#000" stroke-opacity="0.74" stroke-width="1.7" stroke-dasharray="6.3 4.775"/>
<line x1="832.90" y1="290.25" x2="832.90" y2="470.25" stroke="#000" stroke-opacity="0.74" stroke-width="1.7" stroke-dasharray="6.3 4.775"/>
<rect x="356.5" y="136.9" width="35.8" height="40.2" fill="url(#cbar)"/>
<rect x="789.4" y="142.2" width="36.0" height="40.3" fill="url(#cbar)"/>
<text transform="translate(19.1 21.8) scale(0.92 1)" font-size="23.2" font-weight="bold" font-family="Liberation Sans, Arial, sans-serif" fill="#231f20">a</text>
<text x="444.6" y="21.8" font-size="23.4" font-weight="bold" font-family="Liberation Sans, Arial, sans-serif" fill="#231f20">b</text>
<text x="349.6" y="65.4" font-size="19.6" font-family="Liberation Sans, Arial, sans-serif" fill="#231f20"><tspan font-style="italic">B</tspan> = 0 T</text>
<text x="771.8" y="65.2" font-size="19.8" font-family="Liberation Sans, Arial, sans-serif" fill="#231f20"><tspan font-style="italic">B</tspan> = +2 T</text>
<text x="355.3" y="124.8" font-size="19.8" letter-spacing="0.25" font-family="Liberation Sans, Arial, sans-serif" fill="#231f20">High</text>
<text x="355.4" y="199.2" font-size="19.8" letter-spacing="0.2" font-family="Liberation Sans, Arial, sans-serif" fill="#231f20">Low</text>
<text x="788.2" y="130.1" font-size="19.8" letter-spacing="0.25" font-family="Liberation Sans, Arial, sans-serif" fill="#231f20">High</text>
<text x="788.3" y="204.5" font-size="19.8" letter-spacing="0.2" font-family="Liberation Sans, Arial, sans-serif" fill="#231f20">Low</text>
</svg>
</body></html>
